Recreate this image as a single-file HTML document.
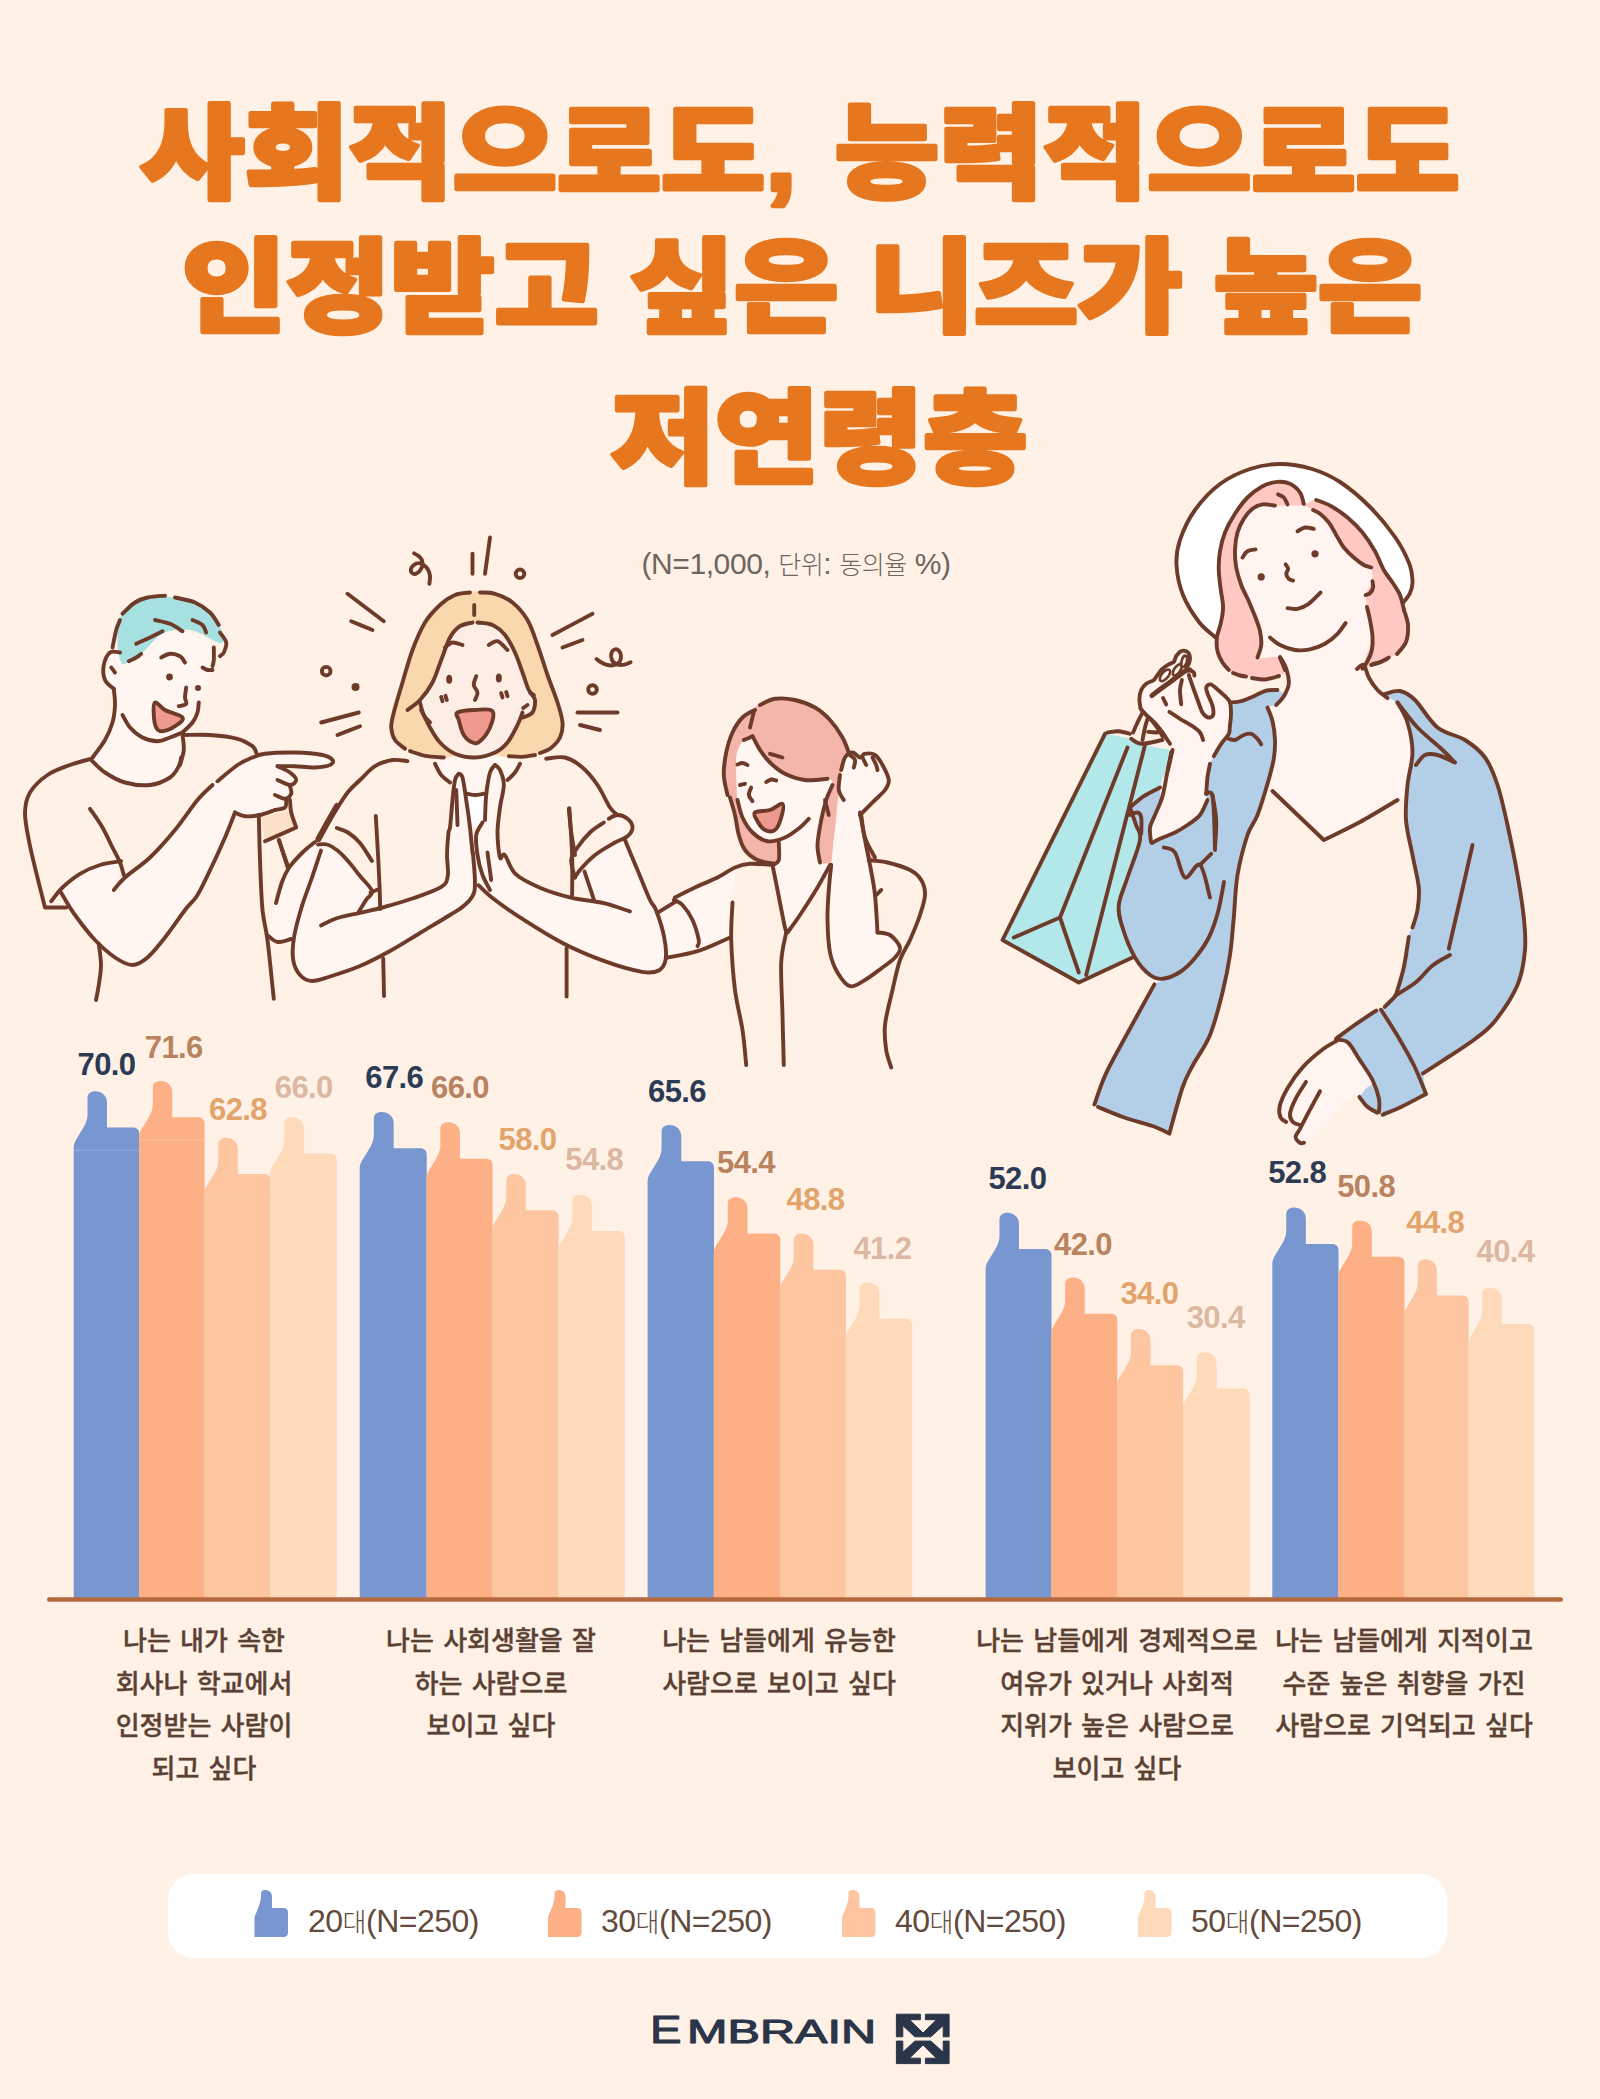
<!DOCTYPE html>
<html lang="ko">
<head>
<meta charset="utf-8">
<title>사회적으로도, 능력적으로도 인정받고 싶은 니즈가 높은 저연령층</title>
<style>
html,body{margin:0;padding:0;}
body{width:1600px;height:2099px;background:#fff1e6;position:relative;overflow:hidden;
  font-family:"Liberation Sans","Noto Sans CJK KR","NanumGothic",sans-serif;}
.abs{position:absolute;}
.sub{position:absolute;left:-4px;width:1600px;text-align:center;top:546px;font-size:30px;line-height:36px;color:#6d6560;font-weight:300;
  font-family:"Liberation Sans","Noto Sans CJK KR",sans-serif;letter-spacing:-0.4px;}
.sub .k{font-size:25px;letter-spacing:-0.5px;}
.num{position:absolute;font-family:"Liberation Sans",sans-serif;font-weight:700;font-size:31px;line-height:30px;
  width:100px;margin-left:-50px;margin-top:1px;text-align:center;letter-spacing:-0.6px;}
.n0{color:#2b3a55}.n1{color:#b9835f}.n2{color:#e3a46c}.n3{color:#dcb8a2}
.cat{position:absolute;top:1620px;width:340px;margin-left:-170px;text-align:center;color:#5a4134;
  font-family:"Liberation Sans","Noto Sans CJK KR",sans-serif;font-weight:500;font-size:26px;line-height:42.6px;letter-spacing:0px;word-spacing:2px;white-space:nowrap;-webkit-text-stroke:0.35px #5a4134;}
.legend{position:absolute;left:168px;top:1874px;width:1279px;height:84px;background:#fff;border-radius:26px;}
.lg{position:absolute;top:1903px;font-size:32px;line-height:36px;color:#634a3c;font-weight:300;
  font-family:"Liberation Sans","Noto Sans CJK KR",sans-serif;letter-spacing:-0.5px;white-space:nowrap;}
.lg .k{font-size:26px;}
svg{position:absolute;left:0;top:0;overflow:visible;}
</style>
</head>
<body>
<svg width="1600" height="600" viewBox="0 0 1600 600">
<g font-family="'Liberation Sans','Noto Sans CJK KR','NanumGothic',sans-serif" font-weight="900" font-size="102" fill="#e6771e" stroke="#e6771e" stroke-width="4.5" stroke-linejoin="round" text-anchor="middle">
<text transform="translate(800,189.5) scale(1.11,1)" word-spacing="6">사회적으로도, 능력적으로도</text>
<text transform="translate(802,323.5) scale(1.11,1)">인정받고 싶은 니즈가 높은</text>
<text transform="translate(819,474.5) scale(1.11,1)">저연령층</text>
</g>
</svg>
<div class="sub">(N=1,000, <span class="k">단위</span>: <span class="k">동의율</span> %)</div>

<!-- chart bars -->
<svg width="1600" height="2099" viewBox="0 0 1600 2099">
<path d="M73.7,1598.0 L73.7,1147.3 C73.7,1143.3 75.7,1140.3 78.21,1136.3 C82.71,1129.3 87.52,1121.3 87.52,1115.3 L87.52,1098.3 C87.52,1093.3 90.73,1091.3 95.23,1091.3 C101.74,1091.3 106.95,1095.8 106.95,1102.3 L106.95,1127.6 L132.79,1127.6 C136.8,1127.6 139.3,1129.8 139.3,1134.3 L139.3,1598.0 Z" fill="#7896cf"/>
<rect x="73.7" y="1149.6" width="65.3" height="1" fill="#fff" opacity="0.22"/>
<path d="M139.0,1598.0 L139.0,1136.96 C139.0,1132.96 141.0,1129.96 143.51,1125.96 C148.01,1118.96 152.82,1110.96 152.82,1104.96 L152.82,1087.96 C152.82,1082.96 156.03,1080.96 160.53,1080.96 C167.04,1080.96 172.25,1085.46 172.25,1091.96 L172.25,1117.26 L198.09,1117.26 C202.1,1117.26 204.6,1119.46 204.6,1123.96 L204.6,1598.0 Z" fill="#fdaf86"/>
<rect x="139" y="1139.3" width="65.3" height="1" fill="#fff" opacity="0.22"/>
<path d="M204.3,1598.0 L204.3,1193.81 C204.3,1189.81 206.32,1186.81 208.85,1182.81 C213.4,1175.81 218.25,1167.81 218.25,1161.81 L218.25,1144.81 C218.25,1139.81 221.48,1137.81 226.03,1137.81 C232.6,1137.81 237.85,1142.31 237.85,1148.81 L237.85,1174.11 L263.93,1174.11 C267.97,1174.11 270.5,1176.31 270.5,1180.81 L270.5,1598.0 Z" fill="#fec5a1"/>
<rect x="204.3" y="1196.1" width="65.9" height="1" fill="#fff" opacity="0.12"/>
<path d="M270.2,1598.0 L270.2,1173.14 C270.2,1169.14 272.23,1166.14 274.78,1162.14 C279.35,1155.14 284.23,1147.14 284.23,1141.14 L284.23,1124.14 C284.23,1119.14 287.49,1117.14 292.06,1117.14 C298.67,1117.14 303.96,1121.64 303.96,1128.14 L303.96,1153.44 L330.19,1153.44 C334.26,1153.44 336.8,1155.64 336.8,1160.14 L336.8,1598.0 Z" fill="#fedaba"/>
<rect x="270.2" y="1175.4" width="66.3" height="1" fill="#fff" opacity="0.12"/>
<path d="M359.7,1598.0 L359.7,1168.0 C359.7,1164.0 361.75,1161.0 364.3,1157.0 C368.91,1150.0 373.82,1142.0 373.82,1136.0 L373.82,1119.0 C373.82,1114.0 377.09,1112.0 381.69,1112.0 C388.34,1112.0 393.66,1116.5 393.66,1123.0 L393.66,1148.3 L420.05,1148.3 C424.14,1148.3 426.7,1150.5 426.7,1155.0 L426.7,1598.0 Z" fill="#7896cf"/>
<path d="M426.4,1598.0 L426.4,1178.34 C426.4,1174.34 428.42,1171.34 430.95,1167.34 C435.5,1160.34 440.35,1152.34 440.35,1146.34 L440.35,1129.34 C440.35,1124.34 443.58,1122.34 448.13,1122.34 C454.7,1122.34 459.95,1126.84 459.95,1133.34 L459.95,1158.64 L486.03,1158.64 C490.07,1158.64 492.6,1160.84 492.6,1165.34 L492.6,1598.0 Z" fill="#fdaf86"/>
<path d="M492.3,1598.0 L492.3,1230.02 C492.3,1226.02 494.32,1223.02 496.85,1219.02 C501.4,1212.02 506.25,1204.02 506.25,1198.02 L506.25,1181.02 C506.25,1176.02 509.48,1174.02 514.03,1174.02 C520.6,1174.02 525.85,1178.52 525.85,1185.02 L525.85,1210.32 L551.93,1210.32 C555.97,1210.32 558.5,1212.52 558.5,1217.02 L558.5,1598.0 Z" fill="#fec5a1"/>
<path d="M558.2,1598.0 L558.2,1250.69 C558.2,1246.69 560.23,1243.69 562.78,1239.69 C567.35,1232.69 572.23,1224.69 572.23,1218.69 L572.23,1201.69 C572.23,1196.69 575.49,1194.69 580.06,1194.69 C586.67,1194.69 591.96,1199.19 591.96,1205.69 L591.96,1230.99 L618.19,1230.99 C622.26,1230.99 624.8,1233.19 624.8,1237.69 L624.8,1598.0 Z" fill="#fedaba"/>
<path d="M647.6,1598.0 L647.6,1180.92 C647.6,1176.92 649.63,1173.92 652.16,1169.92 C656.72,1162.92 661.59,1154.92 661.59,1148.92 L661.59,1131.92 C661.59,1126.92 664.83,1124.92 669.4,1124.92 C675.98,1124.92 681.26,1129.42 681.26,1135.92 L681.26,1161.22 L707.41,1161.22 C711.47,1161.22 714.0,1163.42 714.0,1167.92 L714.0,1598.0 Z" fill="#7896cf"/>
<path d="M713.7,1598.0 L713.7,1253.27 C713.7,1249.27 715.73,1246.27 718.28,1242.27 C722.85,1235.27 727.73,1227.27 727.73,1221.27 L727.73,1204.27 C727.73,1199.27 730.99,1197.27 735.56,1197.27 C742.17,1197.27 747.46,1201.77 747.46,1208.27 L747.46,1233.57 L773.69,1233.57 C777.76,1233.57 780.3,1235.77 780.3,1240.27 L780.3,1598.0 Z" fill="#fdaf86"/>
<path d="M780.0,1598.0 L780.0,1289.45 C780.0,1285.45 782.01,1282.45 784.53,1278.45 C789.05,1271.45 793.88,1263.45 793.88,1257.45 L793.88,1240.45 C793.88,1235.45 797.1,1233.45 801.63,1233.45 C808.17,1233.45 813.4,1237.95 813.4,1244.45 L813.4,1269.75 L839.36,1269.75 C843.38,1269.75 845.9,1271.95 845.9,1276.45 L845.9,1598.0 Z" fill="#fec5a1"/>
<path d="M845.6,1598.0 L845.6,1338.54 C845.6,1334.54 847.64,1331.54 850.18,1327.54 C854.76,1320.54 859.65,1312.54 859.65,1306.54 L859.65,1289.54 C859.65,1284.54 862.91,1282.54 867.49,1282.54 C874.11,1282.54 879.41,1287.04 879.41,1293.54 L879.41,1318.84 L905.68,1318.84 C909.75,1318.84 912.3,1321.04 912.3,1325.54 L912.3,1598.0 Z" fill="#fedaba"/>
<path d="M985.6,1598.0 L985.6,1268.78 C985.6,1264.78 987.61,1261.78 990.13,1257.78 C994.65,1250.78 999.48,1242.78 999.48,1236.78 L999.48,1219.78 C999.48,1214.78 1002.7,1212.78 1007.23,1212.78 C1013.77,1212.78 1019.0,1217.28 1019.0,1223.78 L1019.0,1249.08 L1044.96,1249.08 C1048.98,1249.08 1051.5,1251.28 1051.5,1255.78 L1051.5,1598.0 Z" fill="#7896cf"/>
<path d="M1051.2,1598.0 L1051.2,1333.38 C1051.2,1329.38 1053.22,1326.38 1055.74,1322.38 C1060.28,1315.38 1065.13,1307.38 1065.13,1301.38 L1065.13,1284.38 C1065.13,1279.38 1068.36,1277.38 1072.9,1277.38 C1079.46,1277.38 1084.7,1281.88 1084.7,1288.38 L1084.7,1313.68 L1110.74,1313.68 C1114.78,1313.68 1117.3,1315.88 1117.3,1320.38 L1117.3,1598.0 Z" fill="#fdaf86"/>
<path d="M1117.0,1598.0 L1117.0,1385.06 C1117.0,1381.06 1119.02,1378.06 1121.54,1374.06 C1126.08,1367.06 1130.93,1359.06 1130.93,1353.06 L1130.93,1336.06 C1130.93,1331.06 1134.16,1329.06 1138.7,1329.06 C1145.26,1329.06 1150.5,1333.56 1150.5,1340.06 L1150.5,1365.36 L1176.54,1365.36 C1180.58,1365.36 1183.1,1367.56 1183.1,1372.06 L1183.1,1598.0 Z" fill="#fec5a1"/>
<path d="M1182.8,1598.0 L1182.8,1408.31 C1182.8,1404.31 1184.84,1401.31 1187.39,1397.31 C1191.98,1390.31 1196.87,1382.31 1196.87,1376.31 L1196.87,1359.31 C1196.87,1354.31 1200.14,1352.31 1204.73,1352.31 C1211.36,1352.31 1216.66,1356.81 1216.66,1363.31 L1216.66,1388.61 L1242.97,1388.61 C1247.05,1388.61 1249.6,1390.81 1249.6,1395.31 L1249.6,1598.0 Z" fill="#fedaba"/>
<path d="M1272.3,1598.0 L1272.3,1263.61 C1272.3,1259.61 1274.32,1256.61 1276.85,1252.61 C1281.4,1245.61 1286.25,1237.61 1286.25,1231.61 L1286.25,1214.61 C1286.25,1209.61 1289.48,1207.61 1294.03,1207.61 C1300.6,1207.61 1305.85,1212.11 1305.85,1218.61 L1305.85,1243.91 L1331.93,1243.91 C1335.97,1243.91 1338.5,1246.11 1338.5,1250.61 L1338.5,1598.0 Z" fill="#7896cf"/>
<path d="M1338.2,1598.0 L1338.2,1276.53 C1338.2,1272.53 1340.22,1269.53 1342.75,1265.53 C1347.31,1258.53 1352.17,1250.53 1352.17,1244.53 L1352.17,1227.53 C1352.17,1222.53 1355.41,1220.53 1359.96,1220.53 C1366.54,1220.53 1371.81,1225.03 1371.81,1231.53 L1371.81,1256.83 L1397.92,1256.83 C1401.97,1256.83 1404.5,1259.03 1404.5,1263.53 L1404.5,1598.0 Z" fill="#fdaf86"/>
<path d="M1404.2,1598.0 L1404.2,1315.29 C1404.2,1311.29 1406.17,1308.29 1408.63,1304.29 C1413.06,1297.29 1417.79,1289.29 1417.79,1283.29 L1417.79,1266.29 C1417.79,1261.29 1420.94,1259.29 1425.37,1259.29 C1431.77,1259.29 1436.89,1263.79 1436.89,1270.29 L1436.89,1295.59 L1462.3,1295.59 C1466.24,1295.59 1468.7,1297.79 1468.7,1302.29 L1468.7,1598.0 Z" fill="#fec5a1"/>
<path d="M1468.4,1598.0 L1468.4,1343.71 C1468.4,1339.71 1470.41,1336.71 1472.93,1332.71 C1477.45,1325.71 1482.28,1317.71 1482.28,1311.71 L1482.28,1294.71 C1482.28,1289.71 1485.5,1287.71 1490.03,1287.71 C1496.57,1287.71 1501.8,1292.21 1501.8,1298.71 L1501.8,1324.01 L1527.76,1324.01 C1531.78,1324.01 1534.3,1326.21 1534.3,1330.71 L1534.3,1598.0 Z" fill="#fedaba"/>
<rect x="47" y="1597.2" width="1516" height="4.6" rx="2.3" fill="#b4693e"/>
</svg>

<!-- illustrations -->
<svg width="1600" height="2099" viewBox="0 0 1600 2099" fill="none" stroke-linecap="round" stroke-linejoin="round">
<g stroke="#6e3b2a" stroke-width="3.9" fill="none">
<path d="M120,652.5C115.4,652 113,650.2 110,652.5C107,654.8 104.7,660 103.8,665C102.8,670 103.2,675.6 105,680C106.8,684.4 111.9,684.2 113.8,688.8C115.6,693.3 115.2,698.8 115,705C114.8,711.2 114.3,716.1 112.5,722.5C110.7,728.9 108.7,733.4 105,740C101.3,746.6 92.5,752.8 92.5,758.8C92.5,764.7 99,768.1 105,772.5C111,776.9 116.8,780.2 125,782.5C133.2,784.8 141.8,785.9 150,785C158.2,784.1 164.7,780.9 170,777.5C175.3,774.1 176.2,771.3 178.8,766.2C181.3,761.2 183.1,755.7 183.8,750C184.4,744.3 180.9,740 182.5,735C184.1,730 189.8,726.6 192.5,722.5C195.2,718.4 196.4,716.2 197.5,712.5C198.6,708.8 196.9,707.5 198.8,702.5C200.6,697.5 205,691.4 207.5,685C210,678.6 211.4,674.4 212.5,667.5C213.6,660.6 216,653.5 213.8,647.5C211.5,641.5 207.1,638 200,635C192.9,632 183.2,630.8 175,631.2C166.8,631.7 162.3,633.1 155,637.5C147.7,641.9 141.4,652.2 135,655C128.6,657.8 124.6,653 120,652.5Z" fill="#fff6f1" stroke="none"/>
<path d="M117.5,642.5C117.3,634.7 118.6,626 120,620C121.4,614 121.3,613.7 125,610C128.7,606.3 133.6,602.5 140,600C146.4,597.5 150.8,596 160,596.2C169.2,596.5 180.4,598 190,601.2C199.6,604.5 206.8,608.5 212.5,613.8C218.2,619 219.4,624.7 221.2,630C223.1,635.3 224.1,640.7 222.5,642.5C220.9,644.3 217.5,642.1 212.5,640C207.5,637.9 201.9,633.1 195,631.2C188.1,629.4 181.4,629.3 175,630C168.6,630.7 164.6,632.2 160,635C155.4,637.8 153.7,641.3 150,645C146.3,648.7 144.1,651.8 140,655C135.9,658.2 130.9,661.1 127.5,662.5C124.1,663.9 123.1,666.2 121.2,662.5C119.4,658.8 117.7,650.3 117.5,642.5Z" fill="#a6e0e0" stroke="none"/>
<path d="M113.8,890C114.2,893 118.4,883.5 125,877.5C131.6,871.5 140.8,866.2 150,857.5C159.2,848.8 166.3,840.5 175,830C183.7,819.5 190.6,808.2 197.5,800C204.4,791.8 205.2,791.4 212.5,785C219.8,778.6 230.2,770 237.5,765C244.8,760 247.5,759.6 252.5,757.5C257.5,755.4 257.2,754.7 265,753.8C272.8,752.8 284.5,752.3 295,752.5C305.5,752.7 315.6,753.6 322.5,755C329.4,756.4 331.1,758.2 332.5,760C333.9,761.8 333.2,763.6 330,765C326.8,766.4 321.4,767.3 315,767.5C308.6,767.7 299.6,765.3 295,766.2C290.4,767.2 289.8,770 290,772.5C290.2,775 296.2,777.5 296.2,780C296.2,782.5 290.9,783.7 290,786.2C289.1,788.8 291.9,791.2 291.2,793.8C290.6,796.3 287.4,797.5 286.2,800C285.1,802.5 287.1,805.7 285,807.5C282.9,809.3 279.6,808.6 275,810C270.4,811.4 265.5,813.9 260,815C254.5,816.1 249.6,816.7 245,816.2C240.4,815.8 238.7,808.6 235,812.5C231.3,816.4 229.1,827.9 225,837.5C220.9,847.1 217.5,854.5 212.5,865C207.5,875.5 202.5,886.8 197.5,895C192.5,903.2 191,902.2 185,910C179,917.8 171.9,928.8 165,937.5C158.1,946.2 153.5,952.5 147.5,957.5C141.5,962.5 138.5,965 132.5,965C126.5,965 121.9,962.1 115,957.5C108.1,952.9 102.3,947.8 95,940C87.7,932.2 81.2,923.7 75,915C68.8,906.3 62.8,898 61,892.5C59.2,887 60.6,889.4 65,885C69.4,880.6 77.7,873.1 85,868.8C92.3,864.4 98.1,862.4 105,861C111.9,859.6 120.9,855.7 122.5,861C124.1,866.3 113.3,887 113.8,890Z" fill="#fff6f1" stroke="none"/>
<path d="M261.2,817.5C263.2,817 288.1,810.5 290,810C290.5,811.2 297,827.5 297.5,828.8C295.3,829.5 267.2,839.2 265,840C264.8,838.5 261.5,819 261.2,817.5Z" fill="#fde0c8" stroke="none"/>
<path d="M155,702.5C157.1,701.6 160,707.2 165,710C170,712.8 180.7,714.5 182.5,717.5C184.3,720.5 178.7,723.7 175,726.2C171.3,728.8 165.9,731 162.5,731.2C159.1,731.5 157.9,730.5 156.2,727.5C154.6,724.5 154,719.6 153.8,715C153.5,710.4 152.9,703.4 155,702.5Z" fill="#ee9a8e" stroke="none"/>
<path d="M475,591.2C467.6,591.5 461.5,592.5 455,595C448.5,597.5 445.6,599.9 440,605C434.4,610.1 430.1,614.2 425,622.5C419.9,630.8 416.7,638.9 412.5,650C408.3,661.1 406,670.9 402.5,682.5C399,694.1 395.8,704.2 393.8,712.5C391.7,720.8 391,722.4 391.2,727.5C391.5,732.6 392.5,736.1 395,740C397.5,743.9 400.4,746 405,748.8C409.6,751.5 413.1,753.4 420,755C426.9,756.6 432.3,756.8 442.5,757.5C452.7,758.2 462.5,759 475,758.8C487.5,758.5 498.9,756.9 510,756.2C521.1,755.6 527.6,756.4 535,755C542.4,753.6 545.4,752 550,748.8C554.6,745.5 557.7,742.4 560,737.5C562.3,732.6 563,729 562.5,722.5C562,716 560.3,711.3 557.5,702.5C554.7,693.7 551.2,685.6 547.5,675C543.8,664.4 541.2,655.2 537.5,645C533.8,634.8 532.1,627.9 527.5,620C522.9,612.1 518.5,607.4 512.5,602.5C506.5,597.6 501.9,595.8 495,593.8C488.1,591.7 482.4,591 475,591.2Z" fill="#f9d8ae" stroke="none"/>
<path d="M475,622.5C469,622.7 464.6,623.5 460,626.2C455.4,629 453.5,631.3 450,637.5C446.5,643.7 444.5,651.7 441.2,660C438,668.3 436,675.6 432.5,682.5C429,689.4 424.6,692.4 422.5,697.5C420.4,702.6 419.9,704.5 421.2,710C422.6,715.5 426.5,721.5 430,727.5C433.5,733.5 435.4,737.6 440,742.5C444.6,747.4 448.5,750.9 455,753.8C461.5,756.6 467.6,758.2 475,758C482.4,757.8 489,755.4 495,752.5C501,749.6 503.3,747.6 507.5,742.5C511.7,737.4 514.7,729.6 517.5,725C520.3,720.4 519.7,719.8 522.5,717.5C525.3,715.2 530.2,715.7 532.5,712.5C534.8,709.3 535.5,703.7 535,700C534.5,696.3 532.3,697.6 530,692.5C527.7,687.4 525.3,679.9 522.5,672.5C519.7,665.1 518.2,659.4 515,652.5C511.8,645.6 509.2,640.1 505,635C500.8,629.9 498.1,627.3 492.5,625C486.9,622.7 481,622.3 475,622.5Z" fill="#fdeee5" stroke="none"/>
<path d="M457.5,712.5C460.5,710.7 468.6,710.2 475,710C481.4,709.8 489.8,708 492.5,711.2C495.2,714.5 492.3,722 490,727.5C487.7,733 483.2,738.5 480,741.2C476.8,744 475.5,743.6 472.5,742.5C469.5,741.4 466.3,739.1 463.8,735C461.2,730.9 459.9,724.1 458.8,720C457.6,715.9 454.5,714.3 457.5,712.5Z" fill="#ee9a8e" stroke="none"/>
<path d="M436.2,763.8C433.7,767.2 438.7,771.6 441.2,775C443.8,778.4 446.6,780.7 450,782.5C453.4,784.3 455.4,782.7 460,785C464.6,787.3 469.5,795.9 475,795C480.5,794.1 484,782.8 490,780C496,777.2 502.9,781.4 507.5,780C512.1,778.6 512.7,775.5 515,772.5C517.3,769.5 523.7,767 520,763.8C516.3,760.5 503.2,755.9 495,755C486.8,754.1 482.3,758.5 475,758.8C467.7,759 462.1,755.3 455,756.2C447.9,757.2 438.8,760.3 436.2,763.8Z" fill="#fff6f1" stroke="none"/>
<path d="M468,794.5C469.9,791.8 482.2,791.1 484.5,794.5C486.8,797.9 486.8,815.6 485.5,820C484.2,824.4 477.1,828.2 475,827.5C472.9,826.8 470.9,819.4 470,815C469.1,810.6 466.1,797.2 468,794.5Z" fill="#ffffff" stroke="none"/>
<path d="M458.8,773.8C457.4,774.2 456.1,775.2 455,780C453.9,784.8 453.4,791.3 452.5,800C451.6,808.7 450.7,821.5 450,827.5C449.3,833.5 449.1,827.5 448.5,832.5C447.9,837.5 447.1,847 447,855C446.9,863 448.9,870.1 447.8,876C446.6,881.9 447.5,883.1 441,887.2C434.5,891.4 423.2,894.8 412.5,898.5C401.8,902.2 389.9,908.9 382.5,907.5C375.1,906.1 376.1,896.8 372,891C367.9,885.2 364.4,881.5 360,876C355.6,870.5 352.1,865.7 348,861C343.9,856.3 341.4,853.5 337.5,850.5C333.6,847.5 330,844.5 327,844.5C324,844.5 323.8,844.5 321,850.5C318.2,856.5 315.6,867 312,877.5C308.4,888 304.8,896.5 301.5,907.5C298.2,918.5 295.5,927.9 294,937.5C292.5,947.1 292.1,953.1 293.2,960C294.4,966.9 296.6,971.1 300,975C303.4,978.9 306.5,980.7 312,981C317.5,981.3 321.2,979.2 330,976.5C338.8,973.8 349,970.7 360,966C371,961.3 379,957 390,951C401,945 409,939.6 420,933C431,926.4 442,920 450,915C458,910 459,910.4 463.5,906C468,901.6 472.7,900.1 474.5,890.8C476.3,881.4 474.1,867.1 473.1,855C472.1,842.9 470.3,834.8 469,824.8C467.7,814.7 467.4,808.7 466.2,800C465.1,791.3 463.9,782.3 462.5,777.5C461.1,772.7 460.1,773.3 458.8,773.8Z" fill="#fff6f1" stroke="none"/>
<path d="M495,765C493.2,765.5 491.6,767 490,772.5C488.4,778 487.2,786.3 486.2,795C485.3,803.7 486.8,812.7 485,820C483.2,827.3 477.6,828.6 476.2,835C474.9,841.4 477.1,845.8 477.5,855C477.9,864.2 475.6,877.2 478.6,885.2C481.6,893.3 485.9,893 493.8,899C501.6,905 508.6,910.2 521.2,918.2C533.9,926.3 547.4,935.2 562.5,943C577.6,950.8 589.1,955.6 603.8,960.9C618.4,966.2 632.2,970.1 642.2,971.9C652.3,973.6 654.5,972.8 658.8,970.5C663,968.2 664.6,965.5 665.6,959.5C666.6,953.5 666,946.6 664.2,937.5C662.5,928.4 660,922.1 656,910C652,897.9 647.8,885.6 642.2,871.5C636.7,857.4 630.8,845.1 625.8,833C620.7,820.9 616.7,803.8 614.8,805.5C612.8,807.2 618.6,833.4 615,842.5C611.4,851.6 601.4,850 595,855C588.6,860 583.7,865.9 580,870C576.3,874.1 570.6,871.4 575,877.5C579.4,883.6 604.5,899.4 603.8,903.1C603,906.8 582.3,900.4 570.8,897.6C559.2,894.9 550.6,892.3 540.5,888C530.4,883.7 522.3,880.3 515.8,874.2C509.2,868.2 508.3,863.6 504.8,855C501.2,846.4 497.4,836.2 496.5,827.5C495.6,818.8 498.7,815.3 500,807.5C501.3,799.7 503.8,791.9 503.8,785C503.8,778.1 501.6,773.7 500,770C498.4,766.3 496.8,764.5 495,765Z" fill="#fff6f1" stroke="none"/>
<path d="M318,840C315,840.2 307.8,847.5 303,852C298.2,856.5 293,862 289.5,867C286,872 284.2,876 282,882C279.8,888 278.2,894 276,903C273.8,912 268.2,929.5 268.5,936C268.8,942.5 273.8,941.5 277.5,942C281.2,942.5 288.2,941.8 291,939C293.8,936.2 292.2,930.2 294,925C295.8,919.8 298.5,915.4 301.5,907.5C304.5,899.6 308.8,887 312,877.5C315.2,868 320,856.8 321,850.5C322,844.2 321,839.8 318,840Z" fill="#fff6f1" stroke="none"/>
<path d="M760,703.8C766,700.3 768.5,699.4 775,698.8C781.5,698.1 787.6,698.4 795,700C802.4,701.6 808.5,703.8 815,707.5C821.5,711.2 824.9,714.5 830,720C835.1,725.5 839,731.5 842.5,737.5C846,743.5 849,746.5 848.8,752.5C848.5,758.5 842.9,764 841.2,770C839.6,776 840.7,779 840,785C839.3,791 838.4,794.2 837.5,802.5C836.6,810.8 835.8,820.8 835,830C834.2,839.2 833.5,846.1 833,852.5C832.5,858.9 838.6,862.2 832.5,864.5C826.4,866.8 810.6,865.1 800,865C789.4,864.9 782.9,864.7 775,863.8C767.1,862.8 763,862.5 757.5,860C752,857.5 748.5,854.6 745,850C741.5,845.4 740.6,841.5 738.8,835C736.9,828.5 737.1,822.4 735,815C732.9,807.6 729.6,802.4 727.5,795C725.4,787.6 724,782.9 723.8,775C723.5,767.1 724.6,760.4 726.2,752.5C727.9,744.6 729.5,739 732.5,732.5C735.5,726 737.4,722.8 742.5,717.5C747.6,712.2 754,707.2 760,703.8Z" fill="#f4b5ab" stroke="none"/>
<path d="M861.2,815C861.7,814.5 862.5,829.7 865,837.5C867.5,845.3 872.2,853.1 875,857.5C877.8,861.9 881.1,860.6 880,861.2C878.9,861.9 872,865.1 868.8,861.2C865.5,857.4 863.9,848.5 862.5,840C861.1,831.5 860.8,815.5 861.2,815Z" fill="#f4b5ab" stroke="none"/>
<path d="M752.5,736.2C749.5,734.4 746.6,737 743.8,740C740.9,743 738.4,747 737,752.5C735.6,758 736.2,761.3 736.2,770C736.3,778.7 736.4,791.3 737.5,800C738.6,808.7 739.8,811.5 742.5,817.5C745.2,823.5 747.9,828.1 752.5,832.5C757.1,836.9 762.7,839.4 767.5,841.2C772.3,843.1 776.7,839.1 778.8,842.5C780.8,845.9 779.9,855.9 778.8,860C777.6,864.1 772.7,859.5 772.5,865C772.3,870.5 774.8,877.9 777.5,890C780.2,902.1 782.9,926.7 787,931.2C791.1,935.8 794.4,923 800,915C805.6,907 812,896.7 817.5,887.5C823,878.3 829.5,869.6 830,865C830.5,860.4 822.3,866.2 820,862.5C817.7,858.8 817.3,852.8 817.5,845C817.7,837.2 819.6,828.2 821.2,820C822.9,811.8 824.2,806.4 826.2,800C828.3,793.6 832.3,788.9 832.5,785C832.7,781.1 832.5,779.7 827.5,778.8C822.5,777.8 812.8,780.9 805,780C797.2,779.1 791.4,777 785,773.8C778.6,770.5 774.6,766.9 770,762.5C765.4,758.1 763.2,754.8 760,750C756.8,745.2 755.5,738.1 752.5,736.2Z" fill="#fff6f1" stroke="none"/>
<path d="M755,812.5C757.3,810.4 765,811.6 770,810C775,808.4 780.4,802.4 782.5,803.8C784.6,805.1 782.6,812.7 781.2,817.5C779.9,822.3 778,827.7 775,830C772,832.3 768.2,831.6 765,830C761.8,828.4 759.3,824.5 757.5,821.2C755.7,818 752.7,814.6 755,812.5Z" fill="#ee9a8e" stroke="none"/>
<path d="M841.2,770C842.4,764 842.9,760.7 845,757.5C847.1,754.3 849.8,752.5 852.5,752.5C855.2,752.5 857.7,757.3 860,757.5C862.3,757.7 862.2,754.2 865,753.8C867.8,753.3 871.8,752.9 875,755C878.2,757.1 880,760.4 882.5,765C885,769.6 888.3,775.4 888.8,780C889.2,784.6 887.5,786.3 885,790C882.5,793.7 878.7,796.3 875,800C871.3,803.7 867.8,807.2 865,810C862.2,812.8 860,809.5 860,815C860,820.5 863.2,830.8 865,840C866.8,849.2 868.2,854.9 870,865C871.8,875.1 873.6,882.6 875,895C876.4,907.4 874.8,925.2 877.5,932.5C880.2,939.8 885.9,932.2 890,935C894.1,937.8 899.1,943.4 900,947.5C900.9,951.6 898.2,953.8 895,957.5C891.8,961.2 888,963.4 882.5,967.5C877,971.6 871,976.6 865,980C859,983.4 855,987.6 850,986.2C845,984.9 841.2,978.7 837.5,972.5C833.8,966.3 831.8,962.1 830,952.5C828.2,942.9 827.7,931.5 827.5,920C827.3,908.5 828.1,900.1 828.8,890C829.4,879.9 830.1,876 831.2,865C832.4,854 833.2,841.9 835,830C836.8,818.1 840.6,807.3 841.2,800C841.9,792.7 838.8,795.5 838.8,790C838.8,784.5 840.1,776 841.2,770Z" fill="#fff6f1" stroke="none"/>
<path d="M675,897.5C682,893 687.2,891.2 695,887.5C702.8,883.8 710.2,881.2 717.5,877.5C724.8,873.8 732.3,863.4 735,867.5C737.7,871.6 732.9,887.2 732,900C731.1,912.8 736.3,928.1 730,937.5C723.7,946.9 709,947.3 697.5,951C686,954.7 673.6,960.1 667.5,957.5C661.4,954.9 665.9,945.3 664,937C662.1,928.7 655,919.2 657,912C659,904.8 668,902 675,897.5Z" fill="#fff6f1" stroke="none"/>
<path d="M112.5,647.5C113.1,644.6 115,634.6 116.2,630C117.5,625.4 119.4,621.7 120,620"/>
<path d="M122.5,613.8C124.6,611.9 130.8,605.2 135,602.5C139.2,599.8 142.5,598.6 147.5,597.5C152.5,596.4 162.1,596 165,595.8"/>
<path d="M175,597.5C178.3,598.3 189.2,600 195,602.5C200.8,605 206,608.8 210,612.5C214,616.2 217.3,622.9 218.8,625"/>
<path d="M220,632.5C221,634.2 225.6,639.2 226.2,642.5C226.9,645.8 224.8,650.2 223.8,652.5C222.7,654.8 220.6,655.6 220,656.2"/>
<path d="M213.8,647.5C213.8,649.6 214,656.9 213.8,660C213.5,663.1 212.7,665.2 212.5,666.2"/>
<path d="M155,620C157.5,620.6 165.4,621.9 170,623.8C174.6,625.6 180.4,630 182.5,631.2"/>
<path d="M192.5,620C194.2,620.8 200.2,622.9 202.5,625C204.8,627.1 205.6,631.2 206.2,632.5"/>
<path d="M136.2,643.8C138.5,642.7 145.6,639.6 150,637.5C154.4,635.4 160.4,632.3 162.5,631.2"/>
<path d="M128.8,661.2C130,660.6 134.2,658.8 136.2,657.5C138.3,656.2 140.4,654.4 141.2,653.8"/>
<path d="M120,652.5C118.3,652.5 112.7,650.4 110,652.5C107.3,654.6 104.6,660.4 103.8,665C102.9,669.6 103.3,676 105,680C106.7,684 112.3,687.3 113.8,688.8"/>
<path d="M111.2,667.5C111.9,668.3 114.4,671.7 115,672.5"/>
<path d="M113.8,688.8C114,691.5 115.2,699.4 115,705C114.8,710.6 114.2,716.7 112.5,722.5C110.8,728.3 108.3,734.2 105,740C101.7,745.8 94.6,754.6 92.5,757.5"/>
<path d="M161.2,657.5C162.7,656.9 166.9,654 170,653.8C173.1,653.5 177.5,654.8 180,656.2C182.5,657.7 184.2,661.5 185,662.5"/>
<path d="M202.5,667.5C203.3,667.9 205.8,669.6 207.5,670C209.2,670.4 211.7,670 212.5,670"/>
<circle cx="169.5" cy="677" r="3.4" fill="#6e3b2a" stroke="none"/><circle cx="198" cy="688" r="3" fill="#6e3b2a" stroke="none"/>
<path d="M186.2,687.5C186,689.2 185,694.8 185,697.5C185,700.2 187.3,702.3 186.2,703.8C185.2,705.2 180,705.8 178.8,706.2"/>
<path d="M198.8,702.5C198.5,704.2 198.5,709.2 197.5,712.5C196.5,715.8 195,719.2 192.5,722.5C190,725.8 184.2,730.8 182.5,732.5"/>
<path d="M155,702.5C157.1,701.6 160,707.2 165,710C170,712.8 180.7,714.5 182.5,717.5C184.3,720.5 178.7,723.7 175,726.2C171.3,728.8 165.9,731 162.5,731.2C159.1,731.5 157.9,730.5 156.2,727.5C154.6,724.5 154,719.6 153.8,715C153.5,710.4 152.9,703.4 155,702.5Z"/>
<path d="M122.5,715C123.8,717.1 126.7,723.8 130,727.5C133.3,731.2 137.9,735.2 142.5,737.5C147.1,739.8 152.9,741.2 157.5,741.2C162.1,741.2 165.8,739 170,737.5C174.2,736 180.4,733.3 182.5,732.5"/>
<path d="M182.5,735C182.7,737.5 184.2,745 183.8,750C183.3,755 180.6,762.5 180,765"/>
<path d="M91.2,760C93.5,762.1 99.4,768.8 105,772.5C110.6,776.2 117.5,780.4 125,782.5C132.5,784.6 142.5,785.8 150,785C157.5,784.2 165.2,780.6 170,777.5C174.8,774.4 176.9,769.6 178.8,766.2C180.6,762.9 180.8,759 181.2,757.5"/>
<path d="M185,735C189.2,735 201.2,734.4 210,735C218.8,735.6 230.4,736.9 237.5,738.8C244.6,740.6 249.4,744 252.5,746.2C255.6,748.5 255.6,751.5 256.2,752.5"/>
<path d="M91.2,758.8C87.7,759.8 77.3,762.3 70,765C62.7,767.7 54.2,770.4 47.5,775C40.8,779.6 33.8,786.2 30,792.5C26.2,798.8 25.2,804.6 25,812.5C24.8,820.4 26.9,830 28.8,840C30.6,850 33.5,861.2 36.2,872.5C39,883.8 43.5,901.7 45,907.5C48.5,907.5 62.7,907.5 66.2,907.5"/>
<path d="M51.2,901.2C53.1,899 57.7,892.1 62.5,887.5C67.3,882.9 73.8,877.5 80,873.8C86.2,870 93.1,867.1 100,865C106.9,862.9 117.7,861.9 121.2,861.2"/>
<path d="M90,808.8C92.1,811.9 98.8,821 102.5,827.5C106.2,834 109.6,841.7 112.5,847.5C115.4,853.3 118.1,857.9 120,862.5C121.9,867.1 123.1,872.9 123.8,875"/>
<path d="M113.8,890C115.6,887.9 119,882.9 125,877.5C131,872.1 141.7,865.4 150,857.5C158.3,849.6 167.1,839.6 175,830C182.9,820.4 191.2,807.5 197.5,800C203.8,792.5 210,787.5 212.5,785"/>
<path d="M217.5,781.2C220.8,778.5 231.7,769 237.5,765C243.3,761 247.9,759.4 252.5,757.5C257.1,755.6 257.9,754.6 265,753.8C272.1,752.9 285.4,752.3 295,752.5C304.6,752.7 316.2,753.8 322.5,755C328.8,756.2 331.2,758.3 332.5,760C333.8,761.7 332.9,763.8 330,765C327.1,766.2 320.8,767.3 315,767.5C309.2,767.7 301.2,766.5 295,766.2C288.8,766 280.4,766.2 277.5,766.2"/>
<path d="M277.5,766.2C279.6,767.3 286.9,770.2 290,772.5C293.1,774.8 296.2,777.9 296.2,780C296.2,782.1 293.1,785 290,785C286.9,785 279.6,780.8 277.5,780"/>
<path d="M290,786.2C290.2,787.5 292.1,791.7 291.2,793.8C290.4,795.8 287.7,798.5 285,798.8C282.3,799 276.7,795.6 275,795"/>
<path d="M286.2,800C286,801.2 286.9,805.8 285,807.5C283.1,809.2 276.7,809.6 275,810"/>
<path d="M235,812.5C236.7,813.1 240.8,815.8 245,816.2C249.2,816.7 255,816 260,815C265,814 272.5,810.8 275,810"/>
<path d="M235,812.5C233.3,816.7 228.8,828.8 225,837.5C221.2,846.2 217.1,855.4 212.5,865C207.9,874.6 202.1,887.5 197.5,895C192.9,902.5 190.4,902.9 185,910C179.6,917.1 171.2,929.6 165,937.5C158.8,945.4 152.9,952.9 147.5,957.5C142.1,962.1 137.9,965 132.5,965C127.1,965 121.2,961.7 115,957.5C108.8,953.3 101.7,947.1 95,940C88.3,932.9 80.7,922.9 75,915C69.3,907.1 63.3,896.2 61,892.5"/>
<path d="M98.8,943.8C99.1,947.3 101,958.1 101,965C101,971.9 99.6,979.2 98.8,985C97.9,990.8 96.5,997.5 96,1000"/>
<path d="M258.8,815C259,822.5 259.4,844.2 260,860C260.6,875.8 261.2,896.7 262.5,910C263.8,923.3 265.6,925.2 267.5,940C269.4,954.8 272.7,989 273.8,998.8"/>
<path d="M290,800C290.2,802.1 290.2,807.9 291.2,812.5C292.3,817.1 295.4,825 296.2,827.5C291,829.8 270.2,839 265,841.2"/>
<path d="M278.8,840C280.2,844.2 286,860.8 287.5,865"/>
<path d="M470,592.5C467.5,592.9 460,592.9 455,595C450,597.1 445,600.4 440,605C435,609.6 429.6,615 425,622.5C420.4,630 416.2,640 412.5,650C408.8,660 405.6,672.1 402.5,682.5C399.4,692.9 395.6,705 393.8,712.5C391.9,720 391,722.9 391.2,727.5C391.5,732.1 392.7,736.5 395,740C397.3,743.5 403.3,747.3 405,748.8"/>
<path d="M410,751.2C412.5,752 419.4,754.7 425,755.8C430.6,756.8 440.6,757.2 443.8,757.5"/>
<path d="M480,592.5C482.5,592.7 489.6,592.1 495,593.8C500.4,595.4 507.1,598.1 512.5,602.5C517.9,606.9 523.3,612.9 527.5,620C531.7,627.1 534.2,635.8 537.5,645C540.8,654.2 544.2,665.4 547.5,675C550.8,684.6 555,694.6 557.5,702.5C560,710.4 562.1,716.7 562.5,722.5C562.9,728.3 562.1,733.1 560,737.5C557.9,741.9 553.3,746.2 550,748.8C546.7,751.3 541.7,752.3 540,753"/>
<path d="M535,755C532.9,755.3 526.9,756.5 522.5,756.8C518.1,757 511,756.3 508.8,756.2"/>
<path d="M472.5,622.5C470.4,623.1 463.8,623.8 460,626.2C456.2,628.8 453.1,631.9 450,637.5C446.9,643.1 444.2,652.5 441.2,660C438.3,667.5 436,675.8 432.5,682.5C429,689.2 424.2,695.4 420,700C415.8,704.6 409.6,708.3 407.5,710"/>
<path d="M477.5,622.5C480,622.9 487.9,622.9 492.5,625C497.1,627.1 501.2,630.4 505,635C508.8,639.6 512.1,646.2 515,652.5C517.9,658.8 520.2,666.2 522.5,672.5C524.8,678.8 526.9,686.2 528.8,690C530.6,693.8 532.9,694.2 533.8,695"/>
<path d="M421.2,710C422.7,712.9 426.9,722.1 430,727.5C433.1,732.9 435.8,738.1 440,742.5C444.2,746.9 449.2,751.2 455,753.8C460.8,756.2 468.3,757.7 475,757.5C481.7,757.3 489.6,755 495,752.5C500.4,750 503.8,747.1 507.5,742.5C511.2,737.9 515,730 517.5,725C520,720 521.7,714.6 522.5,712.5"/>
<path d="M420,702.5C420.6,704.6 422.1,711.7 423.8,715C425.4,718.3 429,721.2 430,722.5"/>
<path d="M530,692.5C530.8,693.8 534.6,696.7 535,700C535.4,703.3 534.6,709.6 532.5,712.5C530.4,715.4 524.2,716.7 522.5,717.5"/>
<path d="M523.2,708C524,707.5 526.8,705.5 527.5,705"/>
<path d="M474.2,605C474.2,606.7 474.2,613.3 474.2,615"/>
<path d="M445,647.5C446.2,646.7 449.6,642.9 452.5,642.5C455.4,642.1 460.8,644.6 462.5,645"/>
<path d="M488.8,645C490.2,644.4 494.4,640.4 497.5,641.2C500.6,642.1 505.8,648.5 507.5,650"/>
<ellipse cx="449.2" cy="679.2" rx="3" ry="4.5" fill="#6e3b2a" stroke="none"/><ellipse cx="498.8" cy="678" rx="3" ry="4.5" fill="#6e3b2a" stroke="none"/>
<path d="M476.2,676.2C475.8,677.7 473.5,682.3 473.8,685C474,687.7 477.3,690 477.5,692.5C477.7,695 475.4,698.8 475,700"/>
<path d="M441.2,697C441.5,697.7 442.3,700.5 442.5,701.2"/>
<path d="M445.5,695.8C445.7,696.5 446.5,699.3 446.8,700"/>
<path d="M501.2,693.2C501.5,694 502.3,696.8 502.5,697.5"/>
<path d="M506.2,692C506.5,692.7 507.3,695.5 507.5,696.2"/>
<path d="M457.5,712.5C460.5,710.7 468.6,710.2 475,710C481.4,709.8 489.8,708 492.5,711.2C495.2,714.5 492.3,722 490,727.5C487.7,733 483.2,738.5 480,741.2C476.8,744 475.5,743.6 472.5,742.5C469.5,741.4 466.3,739.1 463.8,735C461.2,730.9 459.9,724.1 458.8,720C457.6,715.9 454.5,714.3 457.5,712.5Z"/>
<path d="M435,763.8C436,765.6 438.8,771.9 441.2,775C443.8,778.1 448.5,781.2 450,782.5"/>
<path d="M520,763.8C519.2,765.2 517.1,769.8 515,772.5C512.9,775.2 508.8,778.8 507.5,780"/>
<path d="M467.5,793.8C468.8,794 472.3,795 475,795C477.7,795 482.3,794 483.8,793.8"/>
<path d="M407.5,761.2C405,761 397.9,759.2 392.5,760C387.1,760.8 380.4,762.9 375,766.2C369.6,769.6 364.5,775.7 360,780C355.5,784.3 352,787 348,792C344,797 339.5,804.8 336,810C332.5,815.2 330,818.5 327,823.5C324,828.5 319.5,837.2 318,840"/>
<path d="M337,806C335.3,808.9 330.1,818 327,823.5C323.9,829 319.9,836.4 318.5,839" stroke-width="6"/>
<path d="M315,842C313,843.7 307.2,847.8 303,852C298.8,856.2 293,862 289.5,867C286,872 284.2,876 282,882C279.8,888 277,899.5 276,903"/>
<path d="M318,844.5C319.5,844.5 323.8,843.5 327,844.5C330.2,845.5 334,847.8 337.5,850.5C341,853.2 344.2,856.8 348,861C351.8,865.2 356,871 360,876C364,881 371,887 372,891C373,895 368.2,896.5 366,900C363.8,903.5 359.8,910 358.5,912"/>
<path d="M336.8,828C338.6,828.8 344.1,830 348,832.5C351.9,835 356,838.2 360,843C364,847.8 370,858 372,861"/>
<path d="M370.5,892.5C371.8,892 376.8,890 378,889.5"/>
<path d="M375.8,816C376,820 376.6,828.5 377.2,840C377.9,851.5 379,873.5 379.5,885C380,896.5 380.1,905 380.2,909"/>
<path d="M383.2,958.5C383.4,964.8 383.9,989.8 384,996"/>
<path d="M279,840C280.5,844.8 286.5,863.8 288,868.5"/>
<path d="M268.5,936C270,937 273.8,941.5 277.5,942C281.2,942.5 288.8,939.5 291,939"/>
<path d="M546.2,758.8C549.4,758.5 559,756 565,757.5C571,759 577.1,762.9 582.5,767.5C587.9,772.1 592.9,778.3 597.5,785C602.1,791.7 606.7,802.5 610,807.5C613.3,812.5 616.2,813.8 617.5,815"/>
<path d="M608.8,818.8C610.2,818.1 614.4,815 617.5,815C620.6,815 625,816.7 627.5,818.8C630,820.8 632.5,824.6 632.5,827.5C632.5,830.4 630.4,833.8 627.5,836.2C624.6,838.8 620.4,839.4 615,842.5C609.6,845.6 600.8,850.4 595,855C589.2,859.6 583.3,866.2 580,870C576.7,873.8 575.8,876.2 575,877.5"/>
<path d="M603.8,822.5C601.5,824.2 594.4,828.3 590,832.5C585.6,836.7 580.6,842.9 577.5,847.5C574.4,852.1 571.7,855 571.2,860C570.8,865 574.4,874.6 575,877.5"/>
<path d="M625,840C627.1,845 633.3,860 637.5,870C641.7,880 646.9,893.3 650,900C653.1,906.7 653.6,903.8 656,910C658.4,916.2 662.6,929.2 664.2,937.5C665.9,945.8 666.5,954 665.6,959.5C664.7,965 662.6,968.4 658.8,970.5C654.9,972.6 651.4,973.5 642.2,971.9C633.1,970.3 617,965.7 603.8,960.9C590.5,956.1 576.2,950.1 562.5,943C548.8,935.9 532.7,925.6 521.2,918.2C509.8,910.9 500.9,904.5 493.8,899C486.6,893.5 481.1,887.5 478.6,885.2"/>
<path d="M568.8,808.8C569.2,812.7 570.2,824.8 571.2,832.5C572.3,840.2 574.4,851.2 575,855"/>
<path d="M569.4,808.2C569.8,816 571.7,840.3 572.1,855C572.6,869.7 572.1,889.4 572.1,896.2"/>
<path d="M566.6,948.5C566.6,956.5 566.6,988.6 566.6,996.6"/>
<path d="M584.5,871.5C585.4,874.2 588.4,883.2 590,888C591.6,892.8 593.4,898.3 594.1,900.4"/>
<path d="M458.8,773.8C458.1,774.8 456,775.6 455,780C454,784.4 453.3,792.1 452.5,800C451.7,807.9 450.7,822.1 450,827.5C449.3,832.9 449,827.9 448.5,832.5C448,837.1 447.1,847.8 447,855C446.9,862.2 448.8,870.6 447.8,876C446.8,881.4 446.9,883.5 441,887.2C435.1,891 422.2,895.1 412.5,898.5C402.8,901.9 391.2,905.1 382.5,907.5C373.8,909.9 367.5,911 360,912.8C352.5,914.5 344,915.9 337.5,918C331,920.1 323.8,924.2 321,925.5"/>
<path d="M458.8,773.8C459.4,774.4 461.2,773.1 462.5,777.5C463.8,781.9 465,791.7 466.2,800C467.5,808.3 469,818.8 470,827.5C471,836.2 472,847.9 472.5,852.5C473,857.1 472.8,848.6 473.1,855C473.5,861.4 476.1,882.2 474.5,890.8C472.9,899.2 467.6,902 463.5,906C459.4,910 457.2,910.5 450,915C442.8,919.5 430,927 420,933C410,939 400,945.5 390,951C380,956.5 370,961.8 360,966C350,970.2 338,974 330,976.5C322,979 317,981.2 312,981C307,980.8 303.1,978.5 300,975C296.9,971.5 294.2,966.2 293.2,960C292.2,953.8 292.6,946.2 294,937.5C295.4,928.8 298.5,917.5 301.5,907.5C304.5,897.5 308.8,887 312,877.5C315.2,868 319.5,855 321,850.5"/>
<path d="M456.2,790C456.5,795.8 457.3,819.2 457.5,825"/>
<path d="M495,765C494.2,766.2 491.5,767.5 490,772.5C488.5,777.5 487.1,787.1 486.2,795C485.4,802.9 485.2,815.8 485,820"/>
<path d="M495,765C495.8,765.8 498.5,766.7 500,770C501.5,773.3 503.8,778.8 503.8,785C503.8,791.2 501,799.6 500,807.5C499,815.4 497.5,824.2 497.5,832.5C497.5,840.8 498.8,853.8 500,857.5C501.2,861.2 502.1,852.2 504.8,855C507.4,857.8 509.8,868.8 515.8,874.2C521.7,879.8 531.3,884.1 540.5,888C549.7,891.9 560.2,895.1 570.8,897.6C581.3,900.1 593.9,900.8 603.8,903.1C613.6,905.4 625.5,910 629.9,911.4"/>
<path d="M482.5,822.5C481.5,824.6 477.1,829.6 476.2,835C475.4,840.4 476.5,848.3 477.5,855C478.5,861.7 480.4,869.2 482.5,875C484.6,880.8 488.8,887.5 490,890"/>
<path d="M487.5,852.5C488.1,857.1 490.6,875.4 491.2,880"/>
<path d="M472.5,553.8C472.5,557.1 472.5,570.4 472.5,573.8"/>
<path d="M490,537.5C489.2,543.5 485.8,567.7 485,573.8"/>
<path d="M347.5,593.8C353.5,598.3 377.7,616.7 383.8,621.2"/>
<path d="M351.2,621.2C354.8,622.7 369,628.5 372.5,630"/>
<path d="M592.5,613.8C585.8,617.3 559.2,631.5 552.5,635"/>
<path d="M582.5,640C579.2,641.2 565.8,646.2 562.5,647.5"/>
<path d="M321.2,722.5C327.5,720.8 352.5,714.2 358.8,712.5"/>
<path d="M337.5,735C341.2,733.5 356.2,727.7 360,726.2"/>
<path d="M577.5,712.5C584.2,712.5 610.8,712.5 617.5,712.5"/>
<path d="M580,725C583.3,725.8 596.7,729.2 600,730"/>
<circle cx="326.2" cy="671.2" r="4.3"/><circle cx="355.5" cy="687" r="4" fill="#6e3b2a" stroke="none"/><circle cx="520" cy="573.8" r="4.3"/><circle cx="592.5" cy="689.5" r="4.3"/>
<path d="M414.1,553.4C415,554 417.2,554.9 418.8,556.2C420.3,557.6 421.1,558.2 421.9,560C422.6,561.8 422.9,562.9 422.5,565C422.1,567.1 421.4,568.9 420,570.6C418.6,572.4 417.2,573.3 415.6,573.8C414,574.2 412.8,573.7 411.9,572.8C411,571.9 410.5,570.7 410.9,569.1C411.3,567.5 412.2,566.2 413.8,565C415.3,563.8 416.8,563.1 418.8,563.1C420.8,563.1 421.9,563.7 423.8,565C425.6,566.3 426.9,567.5 428.1,569.7C429.4,571.9 429.7,573.1 430,575.9C430.3,578.7 429.5,582.2 429.4,583.8"/>
<path d="M596.6,659.1C597.8,659.9 600.1,661.9 602.5,663.1C604.9,664.3 606.2,665 608.8,665.3C611.2,665.6 612.8,665.5 615,664.7C617.2,663.9 618.8,663.1 620,661.2C621.2,659.4 621.1,657.4 620.9,655.3C620.6,653.2 619.9,651.8 618.8,650.6C617.6,649.4 616.4,649.1 615,649.4C613.6,649.7 612.6,650.4 611.9,651.9C611.1,653.4 611,654.9 611.2,656.9C611.5,658.9 611.7,660.3 613.1,661.9C614.5,663.5 615.8,664.1 618.1,664.7C620.4,665.3 621.9,665.2 624.4,664.7C626.9,664.2 629.4,662.7 630.6,662.2"/>
<path d="M760,705C762.5,704 769.2,699.6 775,698.8C780.8,697.9 788.3,698.5 795,700C801.7,701.5 809.2,704.2 815,707.5C820.8,710.8 825.4,715 830,720C834.6,725 839.4,732.1 842.5,737.5C845.6,742.9 847.7,750 848.8,752.5"/>
<path d="M755,710C752.9,711.2 746.2,713.8 742.5,717.5C738.8,721.2 735.2,726.7 732.5,732.5C729.8,738.3 727.7,745.4 726.2,752.5C724.8,759.6 723.5,767.9 723.8,775C724,782.1 726.9,791.7 727.5,795"/>
<path d="M730,797.5C730.8,800.4 733.5,808.8 735,815C736.5,821.2 737.1,829.2 738.8,835C740.4,840.8 741.9,845.8 745,850C748.1,854.2 752.5,857.7 757.5,860C762.5,862.3 772.1,863.1 775,863.8"/>
<path d="M753.8,712.5C753.1,715 750.6,725 750,727.5"/>
<path d="M752.5,736.2C751,736.9 745.2,739.4 743.8,740"/>
<path d="M752.5,736.2C753.8,738.5 757.1,745.6 760,750C762.9,754.4 765.8,758.5 770,762.5C774.2,766.5 779.2,770.8 785,773.8C790.8,776.7 797.9,779.2 805,780C812.1,780.8 823.8,779 827.5,778.8"/>
<path d="M770,753.8C772.1,754.4 780.4,756.9 782.5,757.5"/>
<path d="M737.5,764.5C738.3,764.2 740.8,762.9 742.5,763C744.2,763.1 746.7,764.7 747.5,765"/>
<path d="M766.2,782C767.1,781.6 769.6,779.8 771.2,779.5C772.9,779.2 775.4,780.3 776.2,780.5"/>
<path d="M740,785C740.8,784.8 744.2,784 745,783.8"/>
<path d="M751.2,787.5C750.8,788.8 748.5,792.7 748.8,795C749,797.3 751.9,800.2 752.5,801.2"/>
<path d="M755,812.5C757.3,810.4 765,811.6 770,810C775,808.4 780.4,802.4 782.5,803.8C784.6,805.1 782.6,812.7 781.2,817.5C779.9,822.3 778,827.7 775,830C772,832.3 768.2,831.6 765,830C761.8,828.4 759.3,824.5 757.5,821.2C755.7,818 752.7,814.6 755,812.5Z"/>
<path d="M737.5,800C738.3,802.9 740,812.1 742.5,817.5C745,822.9 748.3,828.5 752.5,832.5C756.7,836.5 762.1,840.4 767.5,841.2C772.9,842.1 779.6,839.8 785,837.5C790.4,835.2 796,830.6 800,827.5C804,824.4 807.3,820.2 808.8,818.8"/>
<path d="M778.8,842.5C778.8,845.4 779.8,856.2 778.8,860C777.7,863.8 773.5,864.2 772.5,865"/>
<path d="M832.5,785C831.5,787.5 828.1,794.2 826.2,800C824.4,805.8 822.7,812.5 821.2,820C819.8,827.5 817.7,837.9 817.5,845C817.3,852.1 819.6,859.6 820,862.5"/>
<path d="M825,800C825.6,802.5 828.1,812.5 828.8,815"/>
<path d="M772.5,865C768.8,864.8 756.2,863.3 750,863.8C743.8,864.2 740.4,865.2 735,867.5C729.6,869.8 724.2,874.2 717.5,877.5C710.8,880.8 702.1,884.2 695,887.5C687.9,890.8 678.3,895.8 675,897.5"/>
<path d="M673.8,900C675.2,900.8 679.4,901.7 682.5,905C685.6,908.3 689.8,914.2 692.5,920C695.2,925.8 697.9,935.6 698.8,940C699.6,944.4 697.7,945.2 697.5,946.2"/>
<path d="M667.5,957.5C672.5,956.5 687.1,954.6 697.5,951.2C707.9,947.9 724.6,939.8 730,937.5"/>
<path d="M772.5,865C773.3,869.2 775.4,879.6 777.5,890C779.6,900.4 783.3,920.4 785,927.5C786.7,934.6 787.1,931.7 787.5,932.5C789.6,929.6 795,922.5 800,915C805,907.5 812.5,895.8 817.5,887.5C822.5,879.2 827.9,868.8 830,865"/>
<path d="M786.2,932.5C785.4,937.5 781.9,948.8 781.2,962.5C780.6,976.2 782.1,997.9 782.5,1015C782.9,1032.1 783.5,1056.7 783.8,1065"/>
<path d="M732.5,902.5C732.3,908.8 730.8,925.4 731.2,940C731.7,954.6 733.1,975 735,990C736.9,1005 740.6,1017.5 742.5,1030C744.4,1042.5 745.6,1059.2 746.2,1065"/>
<path d="M868.8,860C871.9,860.4 880.6,860.8 887.5,862.5C894.4,864.2 904.4,867.1 910,870C915.6,872.9 918.8,875.8 921.2,880C923.8,884.2 925.2,889.2 925,895C924.8,900.8 922.5,907.5 920,915C917.5,922.5 913.3,932.5 910,940C906.7,947.5 902.9,951.7 900,960C897.1,968.3 895,979.2 892.5,990C890,1000.8 886,1015 885,1025C884,1035 885.2,1042.9 886.2,1050C887.3,1057.1 890.4,1064.6 891.2,1067.5"/>
<path d="M831.2,865C830.8,869.2 829.4,880.8 828.8,890C828.1,899.2 827.3,909.6 827.5,920C827.7,930.4 828.3,943.8 830,952.5C831.7,961.2 834.2,966.9 837.5,972.5C840.8,978.1 845.4,985 850,986.2C854.6,987.5 859.6,983.1 865,980C870.4,976.9 877.5,971.2 882.5,967.5C887.5,963.8 892.1,960.8 895,957.5C897.9,954.2 900.8,951.2 900,947.5C899.2,943.8 893.8,937.5 890,935C886.2,932.5 879.6,932.9 877.5,932.5"/>
<path d="M860,812.5C860.8,817.1 863.3,831.2 865,840C866.7,848.8 868.3,855.8 870,865C871.7,874.2 873.8,883.8 875,895C876.2,906.2 877.1,926.2 877.5,932.5"/>
<path d="M876.2,895C877.1,894.2 880.4,890.8 881.2,890"/>
<path d="M861.2,815C861.9,818.8 862.7,830.4 865,837.5C867.3,844.6 873.3,854.2 875,857.5"/>
<path d="M841.2,770C841.9,767.9 843.1,760.4 845,757.5C846.9,754.6 850,752.5 852.5,752.5C855,752.5 857.9,757.3 860,757.5C862.1,757.7 862.5,754.2 865,753.8C867.5,753.3 872.1,753.1 875,755C877.9,756.9 880.2,760.8 882.5,765C884.8,769.2 888.3,775.8 888.8,780C889.2,784.2 887.3,786.7 885,790C882.7,793.3 878.3,796.7 875,800C871.7,803.3 867.5,807.5 865,810C862.5,812.5 860.8,814.2 860,815"/>
<path d="M840,775C839.8,777.5 838.1,785.8 838.8,790C839.4,794.2 842.9,798.3 843.8,800"/>
<path d="M850,755C850.8,755.8 854.4,757.9 855,760C855.6,762.1 854,766.2 853.8,767.5"/>
<path d="M862.5,757.5C863.1,758.8 865.6,763.8 866.2,765"/>
<path d="M872.5,757.5C873.1,758.8 875.4,762.9 876.2,765C877.1,767.1 877.3,769.2 877.5,770"/>
<path d="M657.4,912.8C660.4,910.9 672.3,903.6 675.2,901.8"/>
</g>
<g stroke="#6e3b2a" stroke-width="3.9" fill="none">
<path d="M1215,637C1208.2,640.7 1204.3,629 1199,622C1193.7,615 1186.8,604.5 1183,595C1179.2,585.5 1177,574.2 1176.5,565C1176,555.8 1176.9,549.2 1180,540C1183.1,530.8 1188.3,519.3 1195,510C1201.7,500.7 1210.8,490.8 1220,484C1229.2,477.2 1240,472.3 1250,469C1260,465.7 1269.7,464 1280,464C1290.3,464 1302,466 1312,469C1322,472 1330.3,475.7 1340,482C1349.7,488.3 1360.8,497.8 1370,507C1379.2,516.2 1388.5,527.7 1395,537C1401.5,546.3 1406.1,555.7 1409,563C1411.9,570.3 1412.3,576 1412.5,581C1412.7,586 1411.6,589.3 1410,593C1408.4,596.7 1408,601.8 1403,603C1398,604.2 1397.2,607.2 1380,600C1362.8,592.8 1323.3,560 1300,560C1276.7,560 1254.2,587.2 1240,600C1225.8,612.8 1221.8,633.3 1215,637Z" fill="#ffffff" stroke="none"/>
<path d="M1303.8,503.8C1300.8,502.4 1302.5,496.2 1300,492.5C1297.5,488.8 1294.1,485.7 1290,483.8C1285.9,481.8 1282.5,481.4 1277.5,481.9C1272.5,482.3 1268,483.4 1262.5,486.2C1257,489.1 1252.5,492.5 1247.5,497.5C1242.5,502.5 1239.1,507.3 1235,513.8C1230.9,520.2 1227.8,525.6 1225,532.5C1222.2,539.4 1221.1,544.4 1220,551.2C1218.9,558.1 1218.6,563.1 1218.8,570C1218.9,576.9 1219.8,581.9 1220.6,588.8C1221.4,595.6 1223.1,601.1 1223.1,607.5C1223.1,613.9 1221.8,618.2 1220.6,623.8C1219.5,629.2 1217.4,632.5 1216.9,637.5C1216.3,642.5 1216.5,646.7 1217.5,651.2C1218.5,655.8 1220.4,659.1 1222.5,662.5C1224.6,665.9 1224.6,667.5 1228.8,670C1232.9,672.5 1238.4,674.4 1245,676C1251.6,677.6 1258.6,679.2 1265,679C1271.4,678.8 1273.6,676.6 1280,675C1286.4,673.4 1285.3,671.3 1300,670C1314.7,668.7 1346.7,669.1 1360,668C1373.3,666.9 1366.1,666.4 1372.5,664C1378.9,661.6 1388.9,659.4 1395,655C1401.1,650.6 1403.7,646.4 1406,640C1408.3,633.6 1408.6,628.2 1407.5,620C1406.4,611.8 1402.8,601.9 1400,595C1397.2,588.1 1395.5,587.1 1392.5,582.5C1389.5,577.9 1387,575.7 1383.8,570C1380.5,564.3 1378.9,558.1 1375,551.2C1371.1,544.4 1367.5,538.7 1362.5,532.5C1357.5,526.3 1353.2,522.3 1347.5,517.5C1341.8,512.7 1337,509.5 1331.2,506.2C1325.5,503 1321.3,500.5 1316.2,500C1311.2,499.5 1306.7,505.1 1303.8,503.8Z" fill="#ffc8c3" stroke="none"/>
<path d="M1287.5,505.6C1282,505.5 1279.6,505.9 1275,505.6C1270.4,505.4 1266.6,503.8 1262.5,504.4C1258.4,504.9 1255.9,506.1 1252.5,508.8C1249.1,511.4 1246.5,514.4 1243.8,518.8C1241,523.1 1239.1,526.8 1237.5,532.5C1235.9,538.2 1235.2,543.6 1235,550C1234.8,556.4 1235.1,561.1 1236.2,567.5C1237.4,573.9 1239,578.8 1241.2,585C1243.5,591.2 1246.2,595.5 1248.8,601.2C1251.3,607 1252.9,610.8 1255,616.2C1257.1,621.8 1258.9,626 1260,631.2C1261.1,636.5 1261.5,640.2 1261.2,645C1261,649.8 1255.3,655.1 1258.8,657.5C1262.2,659.9 1274.7,655.2 1280,658C1285.3,660.8 1286.6,666.6 1287.5,672.5C1288.4,678.4 1286.8,685 1285,690C1283.2,695 1280.7,696.8 1277.5,700C1274.3,703.2 1269.3,706.1 1267.5,707.5C1268.4,710 1271.1,715 1272.5,721C1273.9,727 1274.8,733.1 1275,740C1275.2,746.9 1275.1,750.7 1273.8,758.8C1272.4,766.8 1267.7,777.8 1267.5,783.8C1267.3,789.7 1271.6,789.7 1272.5,791C1281.9,800 1314.4,831 1323.8,840C1337.3,832.7 1384,807.3 1397.5,800C1399.3,797.2 1404.8,793.7 1407.5,785C1410.2,776.3 1412.5,764 1412.5,752.5C1412.5,741 1410.2,731.7 1407.5,722.5C1404.8,713.3 1401.2,706.6 1397.5,702.5C1393.8,698.4 1391.2,702.3 1387.5,700C1383.8,697.7 1380.9,694.1 1377.5,690C1374.1,685.9 1371.3,682.1 1368.8,677.5C1366.2,672.9 1363.3,671.9 1363.8,665C1364.2,658.1 1370.1,649.2 1371,640C1371.9,630.8 1369.7,623.2 1368.8,615C1367.8,606.8 1365.4,601.4 1366,595C1366.6,588.6 1371.1,585 1372,580C1372.9,575 1372.5,570.2 1371,567.5C1369.5,564.8 1366.9,566.8 1363.8,565C1360.6,563.2 1357.4,560.7 1353.8,557.5C1350.1,554.3 1347,551.6 1343.8,547.5C1340.5,543.4 1339,539.6 1336.2,535C1333.5,530.4 1331.7,526.4 1328.8,522.5C1325.8,518.6 1322.9,516 1320,513.8C1317.1,511.5 1315.9,511.4 1313.1,510C1310.4,508.6 1309.7,507.1 1305,506.2C1300.3,505.4 1293,505.7 1287.5,505.6Z" fill="#fff4ef" stroke="none"/>
<path d="M1277.5,690C1274.2,689 1270.4,689.5 1266,690.6C1261.6,691.7 1258.3,694.1 1253.8,696C1249.2,697.9 1245.4,699.8 1241,701C1236.6,702.2 1232,702.2 1230,702.5C1230,706.6 1230.2,719.3 1230,725C1229.8,730.7 1230.4,730.3 1228.8,733.8C1227.1,737.2 1223.8,739.7 1221,743.8C1218.2,747.8 1215.8,752.3 1213.8,756C1211.7,759.7 1211.1,759.8 1210,763.8C1208.9,767.7 1208.2,772 1207.5,777.5C1206.8,783 1206,789.6 1206,793.8C1206,797.9 1207.2,798.9 1207.5,800C1206.1,802.8 1203.7,810.4 1200,815C1196.3,819.6 1192.1,821.8 1187.5,825C1182.9,828.2 1180,830 1175,832.5C1170,835 1164.2,836.8 1160,838.8C1155.8,840.7 1153.5,842.2 1152,843C1151.6,840.2 1149.5,832.6 1150,827.5C1150.5,822.4 1153.2,820 1155,815C1156.8,810 1159.1,805 1160,800C1160.9,795 1160,789.8 1160,787.5C1157,789.1 1149.2,792.3 1143.8,796C1138.2,799.7 1132.5,805.4 1130,807.5C1130.5,810.7 1131.2,819 1133,825C1134.8,831 1141,830.4 1140,840C1139,849.6 1131.4,865.6 1127.5,877.5C1123.6,889.4 1119.7,895.8 1118.8,905C1117.8,914.2 1119.5,917.9 1122.5,927.5C1125.5,937.1 1130,948.8 1135,957.5C1140,966.2 1145,971.1 1150,975C1155,978.9 1161.7,977 1162.5,978.8C1163.3,980.5 1155.9,983.4 1154.4,984.4C1148.9,994.4 1133.3,1022.2 1124.4,1038.8C1115.5,1055.2 1111.1,1062.4 1105.6,1074.4C1100.1,1086.4 1096.5,1098.9 1094.4,1104.4C1095.1,1104.9 1092.5,1104.6 1098,1107C1103.5,1109.4 1114.4,1114 1124.4,1117.5C1134.4,1121 1144.2,1123.1 1152.5,1126C1160.8,1128.9 1166.3,1132 1169.4,1133.4C1171.8,1125 1178.2,1100 1182.5,1087.5C1186.8,1075 1188,1074.6 1193,1065C1198,1055.4 1204.6,1048.3 1210,1035C1215.4,1021.7 1218.8,1007.2 1222.5,992.5C1226.2,977.8 1227.9,968.8 1230,955C1232.1,941.2 1232.4,932.2 1233.8,917.5C1235.1,902.8 1235,890.1 1237.5,875C1240,859.9 1242.9,849.2 1247.5,835C1252.1,820.8 1257.9,810.8 1262.5,797.5C1267.1,784.2 1270.4,774.9 1272.5,762.5C1274.6,750.1 1274.7,740.4 1273.8,730C1272.8,719.6 1268.6,710.4 1267.5,706C1269.1,705.8 1273,706.8 1276,705C1279,703.2 1283.5,698.8 1283.8,696C1284,693.2 1280.8,691 1277.5,690Z" fill="#b3cfe8" stroke="none"/>
<path d="M1385,694C1385.5,691.9 1394.5,689.9 1400,691C1405.5,692.1 1408.1,693.3 1415,700C1421.9,706.7 1428.3,720.2 1437.5,727.5C1446.7,734.8 1456.3,734.5 1465,740C1473.7,745.5 1479,749.2 1485,757.5C1491,765.8 1493.4,772.6 1497.5,785C1501.6,797.4 1503.8,808.5 1507.5,825C1511.2,841.5 1514.5,858 1517.5,875C1520.5,892 1522.4,903.8 1523.8,917.5C1525.1,931.2 1526.1,937.6 1525,950C1523.9,962.4 1523,972 1517.5,985C1512,998 1502.8,1011.1 1495,1021C1487.2,1030.9 1483.7,1032.3 1475,1039C1466.3,1045.7 1457,1051.2 1447.5,1057.5C1438,1063.8 1427.5,1070.5 1423,1073.4C1423.5,1077.2 1425.5,1090.2 1426,1094C1421.7,1096.2 1410.4,1102.2 1402.5,1106C1394.6,1109.8 1387.5,1113.5 1382.8,1114.7C1378.1,1115.9 1379.9,1114.4 1377,1112.8C1374.1,1111.2 1370.2,1108.9 1367,1106C1363.8,1103.1 1360.8,1098.7 1359.4,1097C1361.8,1093.9 1370.1,1083.1 1372.5,1080C1370.1,1076.2 1363.9,1066.3 1359.4,1059.4C1354.9,1052.5 1352.1,1046.1 1348,1042.5C1343.9,1038.9 1339,1040.2 1337,1039.7C1340.1,1037.1 1346.6,1030.9 1353.8,1025.6C1360.9,1020.3 1370.3,1014 1376,1010.6C1381.7,1007.2 1381.2,1009.6 1384.7,1006.9C1388.2,1004.2 1393.1,998 1395,996C1395.9,992.8 1398,985.4 1399.7,978.8C1401.4,972.1 1402.3,968 1404,960C1405.7,952 1407.2,941 1408.8,935C1410.3,929 1410.9,932.1 1412.5,927.5C1414.1,922.9 1416.4,917.3 1417.5,910C1418.6,902.7 1419.7,897.6 1418.8,887.5C1417.8,877.4 1414.8,867.4 1412.5,855C1410.2,842.6 1406.9,832.8 1406,820C1405.1,807.2 1406.3,797.4 1407.5,785C1408.7,772.6 1412.5,764 1412.5,752.5C1412.5,741 1410.2,731.7 1407.5,722.5C1404.8,713.3 1399.3,706.2 1397.5,702.5C1395.2,700.9 1384.5,696.1 1385,694Z" fill="#b3cfe8" stroke="none"/>
<path d="M1105,733.8C1091.3,761.2 1016.2,912.5 1002.5,940C1012.7,945.7 1068.6,976.8 1078.8,982.5C1085.9,979.2 1125.3,960.8 1132.5,957.5C1130.8,951.8 1120.6,926.7 1120,915C1119.4,903.3 1125.3,880 1128,870C1130.7,860 1139.6,847.3 1140,840C1140.4,832.7 1132.3,819.4 1131,815C1129.7,810.6 1130.1,808.1 1130,807C1134,804.3 1156,789.7 1160,787C1161.7,782.1 1170.8,754.9 1172.5,750C1168.8,749.3 1150.7,746.5 1145,745C1139.3,743.5 1135.3,740.2 1130,738.8C1124.7,737.2 1108.3,734.4 1105,733.8Z" fill="#b3e8ea" stroke="none"/>
<path d="M1183.8,650.6C1182.3,650.5 1181.4,650.9 1180,651.9C1178.6,652.9 1177.4,654.4 1176.2,656.2C1175.1,658.1 1175.1,660.4 1173.8,661.9C1172.4,663.4 1170.8,663.1 1168.8,664.4C1166.7,665.7 1164.6,666.8 1162.5,668.8C1160.4,670.7 1159.1,672.9 1157.5,675C1155.9,677.1 1155.8,678.4 1153.8,680C1151.7,681.6 1148.5,681.9 1146.2,683.8C1144,685.6 1142.5,687.1 1141.2,690C1140,692.9 1139.5,696 1139.4,699.4C1139.3,702.8 1139.3,705.9 1140.6,708.8C1141.9,711.6 1143.6,712.4 1146.2,715C1148.9,717.6 1152,719.9 1155,723.1C1158,726.3 1159.8,728.7 1162.5,732.5C1165.2,736.3 1168.4,740.1 1170,743.8C1171.6,747.4 1171.7,747.5 1171.2,752.5C1170.8,757.5 1169.1,763.2 1167.5,771.2C1165.9,779.3 1164.8,788.2 1162.5,796.2C1160.2,804.3 1157.3,809.3 1155,815C1152.7,820.7 1150.5,822.4 1150,827.5C1149.5,832.6 1151.6,840.2 1152,843C1153.5,842.2 1155.8,840.7 1160,838.8C1164.2,836.8 1170,835 1175,832.5C1180,830 1182.9,828.2 1187.5,825C1192.1,821.8 1196.3,819.6 1200,815C1203.7,810.4 1206.1,802.8 1207.5,800C1207.2,798.9 1206,797.9 1206,793.8C1206,789.6 1206.8,783 1207.5,777.5C1208.2,772 1208.9,767.7 1210,763.8C1211.1,759.8 1211.7,759.7 1213.8,756C1215.8,752.3 1218.2,747.8 1221,743.8C1223.8,739.7 1227.1,737.2 1228.8,733.8C1230.4,730.3 1229.6,728.9 1230,725C1230.4,721.1 1231.9,717.8 1231,712.5C1230.1,707.2 1227.5,700.5 1225,696.2C1222.5,692 1220.1,691.6 1217.5,689.4C1214.9,687.2 1212.7,684.8 1210.6,684.4C1208.5,684 1207.9,686 1206,687C1204.1,688 1202.1,692.1 1200,690C1197.9,687.9 1196.2,679.3 1194.4,675.6C1192.6,671.9 1191,672.2 1190,670C1189,667.8 1188.8,666 1188.8,663.8C1188.8,661.5 1190.1,659.6 1190,657.5C1189.9,655.4 1189.2,653.8 1188.1,652.5C1187,651.2 1185.2,650.7 1183.8,650.6Z" fill="#fff4ef" stroke="none"/>
<path d="M1337,1040.6C1332.2,1042 1328.2,1045.2 1322,1050C1315.8,1054.8 1309.2,1060.1 1303,1067C1296.8,1073.9 1292.3,1080.3 1288,1087.5C1283.7,1094.7 1281.1,1100.2 1279.7,1106C1278.3,1111.8 1277.7,1114.8 1280.6,1119C1283.5,1123.2 1292.5,1124.9 1295.6,1128.8C1298.7,1132.6 1293.8,1138.7 1297.5,1140C1301.2,1141.3 1307.5,1142.9 1316,1136C1324.5,1129.1 1335,1111.1 1344,1102.5C1353,1093.9 1359.8,1093.1 1365,1089C1370.2,1084.9 1373.6,1085.5 1372.5,1080C1371.4,1074.5 1363.5,1065.9 1359,1059C1354.5,1052.1 1352,1045.9 1348,1042.5C1344,1039.1 1341.8,1039.2 1337,1040.6Z" fill="#fff4ef" stroke="none"/>
<path d="M1215,637C1212.3,634.5 1204.3,629 1199,622C1193.7,615 1186.8,604.5 1183,595C1179.2,585.5 1177,574.2 1176.5,565C1176,555.8 1176.9,549.2 1180,540C1183.1,530.8 1188.3,519.3 1195,510C1201.7,500.7 1210.8,490.8 1220,484C1229.2,477.2 1240,472.3 1250,469C1260,465.7 1269.7,464 1280,464C1290.3,464 1302,466 1312,469C1322,472 1330.3,475.7 1340,482C1349.7,488.3 1360.8,497.8 1370,507C1379.2,516.2 1388.5,527.7 1395,537C1401.5,546.3 1406.1,555.7 1409,563C1411.9,570.3 1412.3,576 1412.5,581C1412.7,586 1411.6,589.3 1410,593C1408.4,596.7 1404.2,601.3 1403,603"/>
<path d="M1303.8,503.8C1303.1,501.9 1302.3,495.8 1300,492.5C1297.7,489.2 1293.8,485.5 1290,483.8C1286.2,482 1282.1,481.5 1277.5,481.9C1272.9,482.3 1267.5,483.6 1262.5,486.2C1257.5,488.9 1252.1,492.9 1247.5,497.5C1242.9,502.1 1238.8,507.9 1235,513.8C1231.2,519.6 1227.5,526.2 1225,532.5C1222.5,538.8 1221,545 1220,551.2C1219,557.5 1218.6,563.8 1218.8,570C1218.9,576.2 1219.9,582.5 1220.6,588.8C1221.4,595 1223.1,601.7 1223.1,607.5C1223.1,613.3 1221.7,618.8 1220.6,623.8C1219.6,628.8 1217.4,632.9 1216.9,637.5C1216.4,642.1 1216.6,647.1 1217.5,651.2C1218.4,655.4 1220.6,659.4 1222.5,662.5C1224.4,665.6 1227.7,668.8 1228.8,670"/>
<path d="M1233,673C1234.2,673.4 1237.8,674.9 1240,675.5C1242.2,676.1 1245,676.3 1246,676.5"/>
<path d="M1252,678C1254.2,678.2 1260.5,679.8 1265,679.5C1269.5,679.2 1276.7,676.6 1279,676"/>
<path d="M1280,658.1C1280.5,659.3 1282.3,663 1283.1,665C1284,667 1284.7,669.2 1285,670"/>
<path d="M1316.2,500C1318.8,501 1326,503.3 1331.2,506.2C1336.5,509.2 1342.3,513.1 1347.5,517.5C1352.7,521.9 1357.9,526.9 1362.5,532.5C1367.1,538.1 1371.5,545 1375,551.2C1378.5,557.5 1380.8,564.8 1383.8,570C1386.7,575.2 1389.8,578.3 1392.5,582.5C1395.2,586.7 1398.1,590.4 1400,595C1401.9,599.6 1403.3,607.5 1404,610"/>
<path d="M1404,610C1404.7,612.5 1407.7,619.7 1408,625C1408.3,630.3 1407.8,637.2 1406,642C1404.2,646.8 1398.5,652 1397,654"/>
<path d="M1371.2,665C1372.7,664.6 1377.1,663.8 1380,662.5C1382.9,661.2 1387.3,658.3 1388.8,657.5"/>
<path d="M1373,664C1374.2,663.7 1377.7,662.8 1380,662C1382.3,661.2 1385.8,659.5 1387,659"/>
<path d="M1275,505.6C1272.9,505.4 1266.2,503.9 1262.5,504.4C1258.8,504.9 1255.6,506.4 1252.5,508.8C1249.4,511.1 1246.2,514.8 1243.8,518.8C1241.2,522.7 1239,527.3 1237.5,532.5C1236,537.7 1235.2,544.2 1235,550C1234.8,555.8 1235.2,561.7 1236.2,567.5C1237.3,573.3 1239.2,579.4 1241.2,585C1243.3,590.6 1246.5,596 1248.8,601.2C1251,606.5 1253.1,611.2 1255,616.2C1256.9,621.2 1259,626.5 1260,631.2C1261,636 1261.7,640.6 1261.2,645C1260.8,649.4 1258.1,655.4 1257.5,657.5"/>
<path d="M1313.1,510C1314.3,510.6 1317.4,511.7 1320,513.8C1322.6,515.8 1326,519 1328.8,522.5C1331.5,526 1333.8,530.8 1336.2,535C1338.8,539.2 1340.8,543.8 1343.8,547.5C1346.7,551.2 1350.4,554.6 1353.8,557.5C1357.1,560.4 1360.8,563.3 1363.8,565C1366.7,566.7 1370,567.1 1371.2,567.5"/>
<path d="M1278.1,494.4C1279.1,494.9 1282.2,495.8 1283.8,497.5C1285.3,499.2 1286.9,503.2 1287.5,504.4"/>
<path d="M1242.5,557.5C1243.3,556.5 1245.3,552.6 1247.5,551.2C1249.7,549.9 1254.3,549.7 1255.6,549.4"/>
<path d="M1297.5,531.2C1298.8,530.6 1302.3,527.9 1305,527.5C1307.7,527.1 1312.3,528.5 1313.8,528.8"/>
<circle cx="1261.2" cy="576.9" r="3.6" fill="#6e3b2a" stroke="none"/><circle cx="1315" cy="553.8" r="3.6" fill="#6e3b2a" stroke="none"/>
<path d="M1285.6,564.4C1286,565.1 1288,567.2 1288.1,568.8C1288.2,570.3 1286.1,572.1 1286.2,573.8C1286.4,575.4 1287.6,577.6 1288.8,578.8C1289.9,579.9 1292.4,580.3 1293.1,580.6"/>
<path d="M1287.5,608.1C1289.2,608.2 1294,609.5 1297.5,608.8C1301,608 1304.9,606.5 1308.8,603.8C1312.6,601 1318.6,594.4 1320.6,592.5"/>
<path d="M1270,637.5C1271.7,638.8 1275.8,642.9 1280,645C1284.2,647.1 1290,649.3 1295,650C1300,650.7 1305,650.4 1310,649.4C1315,648.3 1320.4,646.4 1325,643.8C1329.6,641.1 1334.1,637.2 1337.5,633.8C1340.9,630.3 1344.3,624.9 1345.6,623.1"/>
<path d="M1372.5,581.2C1372.6,582.3 1373.5,585.5 1373.1,587.5C1372.7,589.5 1371.2,591.9 1370,593.1C1368.8,594.4 1366.4,594.7 1365.6,595"/>
<path d="M1366.9,606.9C1367.4,609.1 1369.1,615.1 1370,620C1370.9,624.9 1372.2,631.2 1372.5,636.2C1372.8,641.2 1372.7,645.8 1371.9,650C1371,654.2 1369.1,658.1 1367.5,661.2C1365.9,664.4 1363.3,667.5 1362.5,668.8"/>
<path d="M1280,657C1281,658.8 1284.5,663.5 1286,668C1287.5,672.5 1289.1,679 1288.8,683.8C1288.4,688.5 1285.8,692.7 1283.8,696.2C1281.7,699.8 1277.5,703.5 1276.2,705"/>
<path d="M1357,669C1358.1,668.3 1361.8,663.6 1363.8,665C1365.7,666.4 1366.5,673.3 1368.8,677.5C1371,681.7 1374.4,686.6 1377.5,690C1380.6,693.4 1385.8,696.7 1387.5,698"/>
<path d="M1272.5,791C1281,799.2 1315.2,831.8 1323.8,840C1329.8,837 1347.7,828.7 1360,822C1372.3,815.3 1391.2,803.7 1397.5,800"/>
<path d="M1267.5,707.5C1268.3,709.8 1271.2,715.8 1272.5,721.2C1273.8,726.7 1274.8,733.8 1275,740C1275.2,746.2 1275,751.5 1273.8,758.8C1272.5,766 1270.2,774.4 1267.5,783.8C1264.8,793.1 1260.8,806.5 1257.5,815C1254.2,823.5 1250.8,825 1247.5,835C1244.2,845 1239.8,861.2 1237.5,875C1235.2,888.8 1235,904.2 1233.8,917.5C1232.5,930.8 1231.9,942.5 1230,955C1228.1,967.5 1225.8,979.2 1222.5,992.5C1219.2,1005.8 1214.9,1022.9 1210,1035C1205.1,1047.1 1197.6,1056.2 1193,1065C1188.4,1073.8 1186.4,1076.1 1182.5,1087.5C1178.6,1098.9 1171.6,1125.8 1169.4,1133.4"/>
<path d="M1169.4,1133.4C1166.6,1132.2 1160,1128.7 1152.5,1126C1145,1123.3 1133.5,1120.7 1124.4,1117.5C1115.3,1114.3 1102.4,1108.8 1098,1107"/>
<path d="M1094.4,1104.4C1096.3,1099.4 1100.6,1085.3 1105.6,1074.4C1110.6,1063.5 1116.3,1053.8 1124.4,1038.8C1132.5,1023.8 1149.4,993.5 1154.4,984.4"/>
<path d="M1130,807.5C1131,810.4 1134.3,819.6 1136,825C1137.7,830.4 1141.4,831.2 1140,840C1138.6,848.8 1131,866.7 1127.5,877.5C1124,888.3 1119.6,896.7 1118.8,905C1117.9,913.3 1119.8,918.8 1122.5,927.5C1125.2,936.2 1130.4,949.6 1135,957.5C1139.6,965.4 1145.4,971.5 1150,975C1154.6,978.5 1157.5,979.2 1162.5,978.8C1167.5,978.2 1174.6,975.5 1180,972C1185.4,968.5 1190.2,963.8 1195,958C1199.8,952.2 1204.9,945.2 1208.8,937.5C1212.6,929.8 1215.5,921.2 1218,912C1220.5,902.8 1223,887 1224,882"/>
<path d="M1230,702.5C1231.9,702.3 1237.3,702.3 1241.2,701.2C1245.2,700.2 1249.6,698 1253.8,696.2C1257.9,694.5 1262.3,691.6 1266.2,690.6C1270.2,689.6 1275.6,690.1 1277.5,690"/>
<path d="M1228.8,738.8C1229.8,739 1232.5,740.6 1235,740C1237.5,739.4 1241,736 1243.8,735C1246.5,734 1249,733.1 1251.2,733.8C1253.5,734.4 1255.8,737 1257.5,738.8C1259.2,740.5 1260.6,743.5 1261.2,744.4"/>
<path d="M1207.5,800C1206.2,802.5 1203.3,810.8 1200,815C1196.7,819.2 1191.7,822.1 1187.5,825C1183.3,827.9 1179.6,830.2 1175,832.5C1170.4,834.8 1163.8,837 1160,838.8C1156.2,840.5 1153.3,842.3 1152,843"/>
<path d="M1206.2,793.8C1207.2,793.8 1210.7,790.5 1212,794C1213.3,797.5 1213.5,805.7 1214,815C1214.5,824.3 1214.8,844.2 1215,850"/>
<path d="M1130,807.5C1132.3,805.6 1138.8,799.6 1143.8,796.2C1148.8,792.9 1157.3,789 1160,787.5"/>
<path d="M1130,815C1131.2,814.6 1135.6,812.1 1137.5,812.5C1139.4,812.9 1140.6,814 1141.2,817.5C1141.9,821 1141.2,831 1141.2,833.8"/>
<path d="M1163.8,847.5C1165.6,848.3 1171.5,847.5 1175,852.5C1178.5,857.5 1180.8,875.4 1185,877.5C1189.2,879.6 1195.8,861.7 1200,865C1204.2,868.3 1208.3,892.1 1210,897.5"/>
<path d="M1200,865C1201.9,863.1 1209.4,855.6 1211.2,853.8"/>
<path d="M1212.5,795C1213.1,799.2 1215.8,811.2 1216.2,820C1216.7,828.8 1215.2,842.9 1215,847.5"/>
<path d="M1140.6,708.8C1140.4,707.2 1139.3,702.5 1139.4,699.4C1139.5,696.3 1140.1,692.6 1141.2,690C1142.4,687.4 1144.2,685.4 1146.2,683.8C1148.3,682.1 1151.9,681.5 1153.8,680C1155.6,678.5 1156,676.9 1157.5,675C1159,673.1 1160.6,670.5 1162.5,668.8C1164.4,667 1166.9,665.5 1168.8,664.4C1170.6,663.3 1172.5,663.3 1173.8,661.9C1175,660.5 1175.2,657.9 1176.2,656.2C1177.3,654.6 1178.8,652.8 1180,651.9C1181.2,651 1182.4,650.5 1183.8,650.6C1185.1,650.7 1187.1,651.4 1188.1,652.5C1189.1,653.6 1189.9,655.6 1190,657.5C1190.1,659.4 1189.4,662 1188.8,663.8C1188.1,665.5 1186,667.1 1186.2,668.1C1186.5,669.1 1188.8,669.3 1190,670C1191.2,670.7 1193,671.6 1193.8,672.5C1194.5,673.4 1194.3,675.1 1194.4,675.6"/>
<path d="M1140.6,708.8C1141.5,709.8 1143.8,712.6 1146.2,715C1148.7,717.4 1152.3,720.2 1155,723.1C1157.7,726 1160.4,729.7 1162.5,732.5C1164.6,735.3 1166.2,738.1 1167.5,740C1168.8,741.9 1169.6,743.1 1170,743.8"/>
<path d="M1171.2,752.5C1170.6,755.6 1169,764 1167.5,771.2C1166,778.5 1164.6,789 1162.5,796.2C1160.4,803.5 1157.1,809.8 1155,815C1152.9,820.2 1150.7,823 1150,827.5C1149.3,832 1150.8,839.6 1151,842"/>
<g stroke-width="2.6" fill="#fff4ef"><ellipse cx="1165" cy="675.3" rx="7" ry="3.3" transform="rotate(-50 1165 675.3)"/><ellipse cx="1177.3" cy="669.8" rx="6.6" ry="3" transform="rotate(-55 1177.3 669.8)"/><ellipse cx="1184.2" cy="661.3" rx="5.8" ry="2.6" transform="rotate(-75 1184.2 661.3)"/></g>
<path d="M1151.9,695.6C1153.7,694.2 1158.9,690.2 1162.5,687.5C1166.1,684.8 1170,682.1 1173.8,679.4C1177.5,676.7 1182.3,672.8 1185,671.2C1187.7,669.7 1189.2,670.2 1190,670" stroke-width="5"/>
<path d="M1181.9,680C1181.6,681.7 1180.1,685.9 1180,690C1179.9,694.1 1181,702 1181.2,704.4"/>
<path d="M1163,698C1163.5,699.1 1165.7,703.3 1166.2,704.4"/>
<path d="M1188.8,675C1189.5,677.1 1191.5,683.1 1193.1,687.5C1194.7,691.9 1196.5,697.1 1198.1,701.2C1199.7,705.4 1200.8,709.8 1202.5,712.5C1204.2,715.2 1206.3,717.1 1208.1,717.5C1209.9,717.9 1212.4,717 1213.1,715C1213.8,713 1213.3,708.9 1212.5,705.6C1211.7,702.3 1209.1,698 1208.1,695C1207.1,692 1205.8,689.3 1206.2,687.5C1206.7,685.7 1208.7,684.1 1210.6,684.4C1212.5,684.7 1215.1,687.4 1217.5,689.4C1219.9,691.4 1222.9,694.1 1225,696.2C1227.1,698.4 1229,699.5 1230,702.5C1231,705.5 1231,710.2 1231,714C1231,717.8 1230.4,721.7 1230,725C1229.6,728.3 1230.2,730.6 1228.8,733.8C1227.3,736.9 1223.8,740 1221.2,743.8C1218.8,747.5 1215,754.2 1213.8,756.2"/>
<path d="M1210,763.8C1209.6,766 1208.1,772.5 1207.5,777.5C1206.9,782.5 1206.5,791 1206.2,793.8"/>
<path d="M1169.4,711.9C1171.2,713 1176.2,716.4 1180,718.8C1183.8,721.1 1189.2,724 1192.5,726.2C1195.8,728.5 1198.2,730.2 1200,732.5C1201.8,734.8 1202.6,738.8 1203.1,740"/>
<path d="M1105,733.8C1087.9,768.1 1019.6,905.6 1002.5,940C1015.2,947.1 1066,975.4 1078.8,982.5C1087.7,978.3 1123.5,961.7 1132.5,957.5"/>
<path d="M1127.5,747.5C1116.2,775.8 1071.2,889.2 1060,917.5C1052.3,920.8 1021.5,934.2 1013.8,937.5"/>
<path d="M1060,917.5C1063.1,926.7 1075.6,963.3 1078.8,972.5"/>
<path d="M1145,745C1135.2,783.3 1096,936.7 1086.2,975"/>
<path d="M1107.5,732.5C1109.4,732.3 1115,731 1118.8,731.2C1122.5,731.5 1128.1,733.3 1130,733.8"/>
<path d="M1131.2,738.8C1132.9,739.6 1136,743.5 1141.2,743.8C1146.5,744 1159,740.6 1162.5,740"/>
<path d="M1172.5,750C1171.8,753.3 1168.8,766.7 1168,770"/>
<path d="M1142.5,712.5C1141.7,714.2 1139.1,719.2 1137.5,722.5C1135.9,725.8 1133.8,730.8 1133.1,732.5"/>
<path d="M1148.1,716.9C1147.6,718.7 1145.9,723.6 1145,727.5C1144.1,731.4 1142.9,737.9 1142.5,740"/>
<path d="M1148.1,731.9C1149.7,732 1155.9,732.4 1157.5,732.5"/>
<path d="M1150.6,718.8C1151.8,720.4 1156.1,725.8 1158.1,728.8C1160.1,731.7 1161.8,735 1162.5,736.2"/>
<path d="M1385,694C1387.5,693.5 1395,690 1400,691C1405,692 1408.8,693.9 1415,700C1421.2,706.1 1429.2,720.8 1437.5,727.5C1445.8,734.2 1457.1,735 1465,740C1472.9,745 1479.6,750 1485,757.5C1490.4,765 1493.8,773.8 1497.5,785C1501.2,796.2 1504.2,810 1507.5,825C1510.8,840 1514.8,859.6 1517.5,875C1520.2,890.4 1522.5,905 1523.8,917.5C1525,930 1526,938.8 1525,950C1524,961.2 1522.5,973.2 1517.5,985C1512.5,996.8 1502.1,1012 1495,1021C1487.9,1030 1482.9,1032.9 1475,1039C1467.1,1045.1 1456.2,1051.8 1447.5,1057.5C1438.8,1063.2 1427.1,1070.8 1423,1073.4"/>
<path d="M1397.5,702.5C1399.2,705.8 1405,714.2 1407.5,722.5C1410,730.8 1412.5,742.1 1412.5,752.5C1412.5,762.9 1408.6,773.8 1407.5,785C1406.4,796.2 1405.2,808.3 1406,820C1406.8,831.7 1410.4,843.8 1412.5,855C1414.6,866.2 1417.9,878.3 1418.8,887.5C1419.6,896.7 1418.5,903.3 1417.5,910C1416.5,916.7 1413.3,924.6 1412.5,927.5"/>
<path d="M1408.8,937C1407.9,942.1 1405.9,957.8 1403.8,967.5C1401.6,977.2 1397.3,990.4 1396,995"/>
<path d="M1395,995.6C1398.4,993.4 1409.3,987.5 1415.6,982.5C1421.8,977.5 1426.8,970.2 1432.5,965.6C1438.2,961 1447.1,956.8 1450,955"/>
<path d="M1384.7,1006.9C1386.4,1005.2 1393.3,998.3 1395,996.6"/>
<path d="M1397.5,702.5C1400.8,706.7 1410.4,720 1417.5,727.5C1424.6,735 1433.8,741.7 1440,747.5C1446.2,753.3 1452.5,760 1455,762.5C1452.1,761.2 1442.5,756.2 1437.5,755C1432.5,753.8 1428.6,753.3 1425,755C1421.4,756.7 1417.5,763.3 1416,765"/>
<path d="M1472.5,845C1470.4,854.2 1464,882.7 1460,900C1456,917.3 1450.6,940.6 1448.8,948.8"/>
<path d="M1336,1038.8C1339,1036.6 1347,1030.3 1353.8,1025.6C1360.5,1020.9 1372.5,1013.1 1376.2,1010.6"/>
<path d="M1381,1009.7C1383.7,1013.9 1391.5,1025.8 1397,1035C1402.5,1044.2 1408.9,1055.2 1413.8,1065C1418.6,1074.8 1424,1089.2 1426,1094C1422.1,1096 1409.7,1102.8 1402.5,1106.2C1395.3,1109.7 1386.1,1113.3 1382.8,1114.7"/>
<path d="M1336.9,1039.7C1338.8,1040.2 1344.2,1039.2 1348,1042.5C1351.8,1045.8 1355.3,1053.2 1359.4,1059.4C1363.5,1065.7 1369.2,1073.4 1372.5,1080C1375.8,1086.6 1377.9,1093.4 1379,1098.8C1380.1,1104.1 1379,1109.7 1379,1111.9"/>
<path d="M1359.4,1096.9C1360.7,1098.5 1363.9,1103.6 1366.9,1106.2C1369.9,1108.9 1375.5,1111.7 1377.2,1112.8"/>
<path d="M1336.9,1040.6C1334.4,1042.2 1327.6,1045.6 1321.9,1050C1316.2,1054.4 1308.7,1060.7 1303,1066.9C1297.3,1073.2 1291.9,1080.9 1288,1087.5C1284.1,1094.1 1280.9,1101.2 1279.7,1106.2C1278.5,1111.2 1279.5,1114.9 1280.6,1117.5C1281.7,1120.1 1285.3,1121.2 1286.2,1122"/>
<path d="M1306,1081.9C1304.3,1084.7 1298.3,1093.4 1295.6,1098.8C1292.9,1104.1 1290.5,1109.9 1290,1113.8C1289.5,1117.6 1291.1,1120.1 1292.8,1122C1294.5,1123.9 1298.8,1124.5 1300,1125"/>
<path d="M1320,1091.2C1318.1,1094.7 1312.1,1105.7 1308.8,1111.9C1305.4,1118.2 1302.2,1124.6 1300,1128.8C1297.8,1132.9 1295.6,1134.7 1295.6,1137C1295.6,1139.3 1298.6,1141.8 1300,1142.8C1301.4,1143.8 1303.3,1142.8 1304,1142.8"/>
</g>
</svg>

<!-- value labels -->
<div class="num n0" style="left:106.5px;top:1048.6px">70.0</div>
<div class="num n1" style="left:173.8px;top:1031.7px">71.6</div>
<div class="num n2" style="left:238px;top:1093.6px">62.8</div>
<div class="num n3" style="left:303.8px;top:1072.2px">66.0</div>

<div class="num n0" style="left:394.3px;top:1061.7px">67.6</div>
<div class="num n1" style="left:460px;top:1072.2px">66.0</div>
<div class="num n2" style="left:527.5px;top:1123.6px">58.0</div>
<div class="num n3" style="left:594.3px;top:1144.2px">54.8</div>

<div class="num n0" style="left:677px;top:1075.5px">65.6</div>
<div class="num n1" style="left:746px;top:1146.7px">54.4</div>
<div class="num n2" style="left:815.5px;top:1183.5px">48.8</div>
<div class="num n3" style="left:882.4px;top:1233px">41.2</div>

<div class="num n0" style="left:1017.4px;top:1162.9px">52.0</div>
<div class="num n1" style="left:1083px;top:1228.5px">42.0</div>
<div class="num n2" style="left:1149.4px;top:1278.3px">34.0</div>
<div class="num n3" style="left:1215.6px;top:1301.7px">30.4</div>

<div class="num n0" style="left:1297.2px;top:1157.4px">52.8</div>
<div class="num n1" style="left:1366.1px;top:1171.4px">50.8</div>
<div class="num n2" style="left:1435.3px;top:1207.4px">44.8</div>
<div class="num n3" style="left:1505.5px;top:1236.4px">40.4</div>

<!-- category labels -->
<div class="cat" style="left:204px">나는 내가 속한<br>회사나 학교에서<br>인정받는 사람이<br>되고 싶다</div>
<div class="cat" style="left:491px">나는 사회생활을 잘<br>하는 사람으로<br>보이고 싶다</div>
<div class="cat" style="left:779px">나는 남들에게 유능한<br>사람으로 보이고 싶다</div>
<div class="cat" style="left:1117px">나는 남들에게 경제적으로<br>여유가 있거나 사회적<br>지위가 높은 사람으로<br>보이고 싶다</div>
<div class="cat" style="left:1404px">나는 남들에게 지적이고<br>수준 높은 취향을 가진<br>사람으로 기억되고 싶다</div>

<!-- legend -->
<div class="legend"></div>
<svg width="1600" height="2099" viewBox="0 0 1600 2099">
<defs>
<path id="lgthumb" d="M0,47 L0,27 C3,20 6.5,12 6.5,6 L6.5,3.5 C6.5,1.2 8,0 10.5,0 C14.5,0 17.5,2.5 17.5,6.5 L17.5,18 L29,18 C32,18 33.5,19.5 33.5,22.5 L33.5,42 C33.5,45.5 32,47 28.5,47 Z"/>
</defs>
<use href="#lgthumb" x="254.5" y="1890" fill="#7896cf"/>
<use href="#lgthumb" x="548" y="1890" fill="#fdaf86"/>
<use href="#lgthumb" x="842" y="1890" fill="#fec5a1"/>
<use href="#lgthumb" x="1138" y="1890" fill="#fedaba"/>
</svg>
<div class="lg" style="left:308px">20<span class="k">대</span>(N=250)</div>
<div class="lg" style="left:601px">30<span class="k">대</span>(N=250)</div>
<div class="lg" style="left:895px">40<span class="k">대</span>(N=250)</div>
<div class="lg" style="left:1191px">50<span class="k">대</span>(N=250)</div>

<!-- logo -->
<svg width="1600" height="2099" viewBox="0 0 1600 2099">
<g fill="#2b3549" stroke="#2b3549" stroke-width="1.1" stroke-linejoin="round" font-family="'Liberation Sans',sans-serif" font-weight="400">
<text x="650" y="2043"><tspan font-size="38" textLength="31.5" lengthAdjust="spacingAndGlyphs">E</tspan><tspan x="687" font-size="33.5" textLength="189" lengthAdjust="spacingAndGlyphs">MBRAIN</tspan></text>
</g>
<g id="logoicon" fill="#2b3549" stroke="#2b3549" stroke-width="1" stroke-linejoin="round">
<path d="M896.4,2014.2 L920.4,2014.2 L920.4,2019.7 L909.5,2019.7 L923.0,2033.0 L936.5,2019.7 L925.4,2019.7 L925.4,2014.2 L949.1,2014.2 L949.1,2036.8 L943.2,2036.8 L943.2,2025.6 L930.8,2036.8 L914.9,2036.8 L902.8,2025.6 L902.8,2036.8 L896.4,2036.8 Z"/>
<path d="M896.4,2063.6 L920.4,2063.6 L920.4,2058.2 L909.5,2058.2 L923.0,2044.9 L936.5,2058.2 L925.4,2058.2 L925.4,2063.6 L949.1,2063.6 L949.1,2041.1 L943.2,2041.1 L943.2,2052.2 L930.8,2041.1 L914.9,2041.1 L902.8,2052.2 L902.8,2041.1 L896.4,2041.1 Z"/>
</g>
</svg>
</body>
</html>
